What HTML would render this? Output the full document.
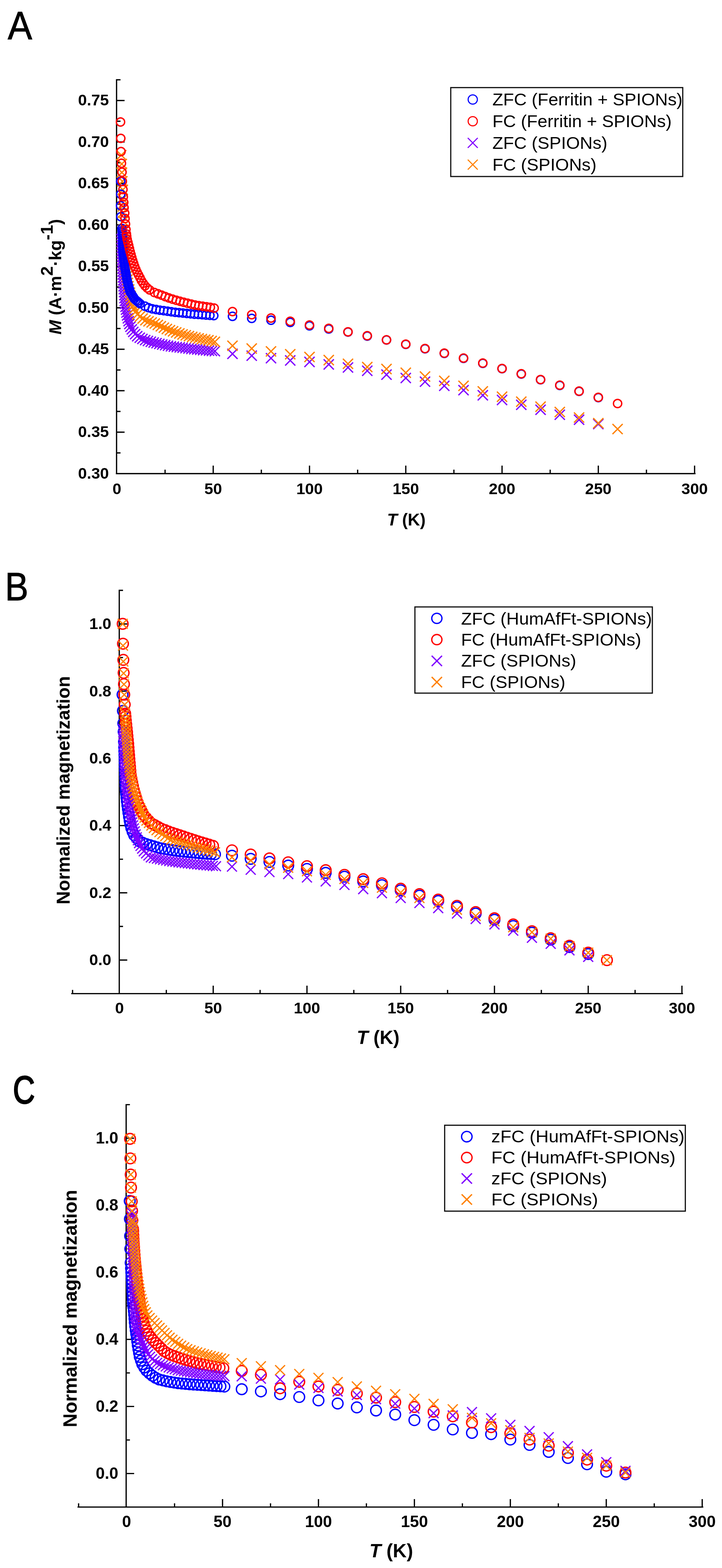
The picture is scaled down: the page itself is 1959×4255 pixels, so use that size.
<!DOCTYPE html>
<html><head><meta charset="utf-8"><title>ZFC/FC magnetization</title>
<style>html,body{margin:0;padding:0;background:#fff;}svg{display:block;filter:blur(0.6px);}</style>
</head><body>
<svg width="1959" height="4255" viewBox="0 0 1959 4255" font-family="'Liberation Sans', Arial, sans-serif">
<rect width="100%" height="100%" fill="#fff"/>
<path fill="none" stroke="#000" stroke-width="3.4" stroke-linecap="square" d="M316.3 216.5V1285.3M316 1285.3H1885.5M316.3 1285.3h20M316.3 1172.8h20M316.3 1060.3h20M316.3 947.8h20M316.3 835.3h20M316.3 722.8h20M316.3 610.3h20M316.3 497.8h20M316.3 385.3h20M316.3 272.8h20M316.3 1229h9M316.3 1116.5h9M316.3 1004h9M316.3 891.5h9M316.3 779h9M316.3 666.6h9M316.3 554h9M316.3 441.5h9M316.3 329h9M316.3 216.5h9M578.5 1285.3v-20M839.8 1285.3v-20M1101 1285.3v-20M1362.2 1285.3v-20M1623.4 1285.3v-20M1884.6 1285.3v-20M447.9 1285.3v-9M709.1 1285.3v-9M970.4 1285.3v-9M1231.6 1285.3v-9M1492.8 1285.3v-9M1754 1285.3v-9"/>
<text x="295.5" y="1298.7" font-size="43" font-weight="bold" text-anchor="end">0.30</text>
<text x="295.5" y="1186.2" font-size="43" font-weight="bold" text-anchor="end">0.35</text>
<text x="295.5" y="1073.7" font-size="43" font-weight="bold" text-anchor="end">0.40</text>
<text x="295.5" y="961.2" font-size="43" font-weight="bold" text-anchor="end">0.45</text>
<text x="295.5" y="848.7" font-size="43" font-weight="bold" text-anchor="end">0.50</text>
<text x="295.5" y="736.2" font-size="43" font-weight="bold" text-anchor="end">0.55</text>
<text x="295.5" y="623.7" font-size="43" font-weight="bold" text-anchor="end">0.60</text>
<text x="295.5" y="511.2" font-size="43" font-weight="bold" text-anchor="end">0.65</text>
<text x="295.5" y="398.7" font-size="43" font-weight="bold" text-anchor="end">0.70</text>
<text x="295.5" y="286.2" font-size="43" font-weight="bold" text-anchor="end">0.75</text>
<text x="317.3" y="1341" font-size="43" font-weight="bold" text-anchor="middle">0</text>
<text x="578.5" y="1341" font-size="43" font-weight="bold" text-anchor="middle">50</text>
<text x="839.8" y="1341" font-size="43" font-weight="bold" text-anchor="middle">100</text>
<text x="1101" y="1341" font-size="43" font-weight="bold" text-anchor="middle">150</text>
<text x="1362.2" y="1341" font-size="43" font-weight="bold" text-anchor="middle">200</text>
<text x="1623.4" y="1341" font-size="43" font-weight="bold" text-anchor="middle">250</text>
<text x="1884.6" y="1341" font-size="43" font-weight="bold" text-anchor="middle">300</text>
<text transform="translate(166 751) rotate(-90)" font-size="47" font-weight="bold" text-anchor="middle"><tspan font-style="italic">M</tspan> (A&#183;m<tspan dy="-23">2</tspan><tspan dy="23">&#183;kg</tspan><tspan dy="-23">-1</tspan><tspan dy="23">)</tspan></text>
<text x="1102.5" y="1426" font-size="46" font-weight="bold" text-anchor="middle"><tspan font-style="italic">T</tspan> (K)</text>
<text font-size="108" stroke="#000" stroke-width="1.4" transform="translate(21 106.6) scale(0.92 1)">A</text>
<path fill="none" stroke="#8000ff" stroke-width="3.5" stroke-linecap="butt" d="M316.3 635l27.6 27.6M316.3 662.6l27.6 -27.6M316.5 643l27.6 27.6M316.5 670.6l27.6 -27.6M316.6 651l27.6 27.6M316.6 678.6l27.6 -27.6M316.8 659l27.6 27.6M316.8 686.6l27.6 -27.6M317.1 667l27.6 27.6M317.1 694.6l27.6 -27.6M317.3 675l27.6 27.6M317.3 702.6l27.6 -27.6M317.6 683l27.6 27.6M317.6 710.6l27.6 -27.6M317.9 691l27.6 27.6M317.9 718.6l27.6 -27.6M318.2 699l27.6 27.6M318.2 726.6l27.6 -27.6M318.5 707l27.6 27.6M318.5 734.6l27.6 -27.6M318.8 715l27.6 27.6M318.8 742.6l27.6 -27.6M319.1 723l27.6 27.6M319.1 750.6l27.6 -27.6M319.5 731l27.6 27.6M319.5 758.6l27.6 -27.6M320 739l27.6 27.6M320 766.6l27.6 -27.6M320.5 746.9l27.6 27.6M320.5 774.5l27.6 -27.6M321 754.9l27.6 27.6M321 782.5l27.6 -27.6M321.6 762.9l27.6 27.6M321.6 790.5l27.6 -27.6M322.2 770.9l27.6 27.6M322.2 798.5l27.6 -27.6M322.9 778.9l27.6 27.6M322.9 806.5l27.6 -27.6M323.5 786.8l27.6 27.6M323.5 814.4l27.6 -27.6M324.1 794.8l27.6 27.6M324.1 822.4l27.6 -27.6M324.8 802.8l27.6 27.6M324.8 830.4l27.6 -27.6M325.6 810.7l27.6 27.6M325.6 838.3l27.6 -27.6M326.9 818.6l27.6 27.6M326.9 846.2l27.6 -27.6M328.2 826.5l27.6 27.6M328.2 854.1l27.6 -27.6M329.5 834.4l27.6 27.6M329.5 862l27.6 -27.6M331.1 842.2l27.6 27.6M331.1 869.8l27.6 -27.6M333.2 850l27.6 27.6M333.2 877.6l27.6 -27.6M335.2 857.7l27.6 27.6M335.2 885.3l27.6 -27.6M337.2 865.5l27.6 27.6M337.2 893.1l27.6 -27.6M340.2 872.8l27.6 27.6M340.2 900.4l27.6 -27.6M343.9 879.9l27.6 27.6M343.9 907.5l27.6 -27.6M347.8 886.9l27.6 27.6M347.8 914.5l27.6 -27.6M352.8 893.1l27.6 27.6M352.8 920.7l27.6 -27.6M358.5 898.6l27.6 27.6M358.5 926.2l27.6 -27.6M365.4 902.7l27.6 27.6M365.4 930.3l27.6 -27.6M372.6 906l27.6 27.6M372.6 933.6l27.6 -27.6M380 909.2l27.6 27.6M380 936.8l27.6 -27.6M387.6 911.5l27.6 27.6M387.6 939.1l27.6 -27.6M395.4 913.6l27.6 27.6M395.4 941.2l27.6 -27.6M403.1 915.7l27.6 27.6M403.1 943.3l27.6 -27.6M410.9 917.5l27.6 27.6M410.9 945.1l27.6 -27.6M418.6 919.4l27.6 27.6M418.6 947l27.6 -27.6M426.4 921.2l27.6 27.6M426.4 948.8l27.6 -27.6M434.3 922.8l27.6 27.6M434.3 950.4l27.6 -27.6M442.1 924.4l27.6 27.6M442.1 952l27.6 -27.6M450 926l27.6 27.6M450 953.6l27.6 -27.6M457.9 927l27.6 27.6M457.9 954.6l27.6 -27.6M465.8 927.9l27.6 27.6M465.8 955.5l27.6 -27.6M473.8 928.8l27.6 27.6M473.8 956.4l27.6 -27.6M481.7 929.8l27.6 27.6M481.7 957.4l27.6 -27.6M489.6 930.9l27.6 27.6M489.6 958.5l27.6 -27.6M497.6 932l27.6 27.6M497.6 959.6l27.6 -27.6M505.5 933.1l27.6 27.6M505.5 960.7l27.6 -27.6M513.4 933.9l27.6 27.6M513.4 961.5l27.6 -27.6M521.4 934.7l27.6 27.6M521.4 962.3l27.6 -27.6M529.4 935.5l27.6 27.6M529.4 963.1l27.6 -27.6M537.3 936.3l27.6 27.6M537.3 963.9l27.6 -27.6M545.3 937l27.6 27.6M545.3 964.6l27.6 -27.6M553.3 937.8l27.6 27.6M553.3 965.4l27.6 -27.6M561.2 938.5l27.6 27.6M561.2 966.1l27.6 -27.6M569.2 939.2l27.6 27.6M569.2 966.8l27.6 -27.6M617 946.4l27.6 27.6M617 974l27.6 -27.6M669.2 951.5l27.6 27.6M669.2 979.1l27.6 -27.6M721.5 958.2l27.6 27.6M721.5 985.8l27.6 -27.6M773.7 964.3l27.6 27.6M773.7 991.9l27.6 -27.6M826 968.3l27.6 27.6M826 995.9l27.6 -27.6M878.2 975.1l27.6 27.6M878.2 1002.7l27.6 -27.6M930.4 983.5l27.6 27.6M930.4 1011.1l27.6 -27.6M982.7 992.3l27.6 27.6M982.7 1019.9l27.6 -27.6M1034.9 1002.8l27.6 27.6M1034.9 1030.4l27.6 -27.6M1087.2 1011.9l27.6 27.6M1087.2 1039.5l27.6 -27.6M1139.4 1022l27.6 27.6M1139.4 1049.6l27.6 -27.6M1191.7 1033.2l27.6 27.6M1191.7 1060.8l27.6 -27.6M1243.9 1045l27.6 27.6M1243.9 1072.6l27.6 -27.6M1296.2 1058.8l27.6 27.6M1296.2 1086.4l27.6 -27.6M1348.4 1071.6l27.6 27.6M1348.4 1099.2l27.6 -27.6M1400.6 1084.7l27.6 27.6M1400.6 1112.3l27.6 -27.6M1452.9 1098.2l27.6 27.6M1452.9 1125.8l27.6 -27.6M1505.1 1111.7l27.6 27.6M1505.1 1139.3l27.6 -27.6M1557.4 1125.2l27.6 27.6M1557.4 1152.8l27.6 -27.6M1609.6 1137l27.6 27.6M1609.6 1164.6l27.6 -27.6"/>
<path fill="none" stroke="#ff8000" stroke-width="3.5" stroke-linecap="butt" d="M315.2 407.2l27.6 27.6M315.2 434.8l27.6 -27.6M316.7 431.2l27.6 27.6M316.7 458.8l27.6 -27.6M316.8 454.2l27.6 27.6M316.8 481.8l27.6 -27.6M318.2 478.2l27.6 27.6M318.2 505.8l27.6 -27.6M319.4 501.2l27.6 27.6M319.4 528.8l27.6 -27.6M319.2 526.2l27.6 27.6M319.2 553.8l27.6 -27.6M319.7 546.2l27.6 27.6M319.7 573.8l27.6 -27.6M320.2 563.2l27.6 27.6M320.2 590.8l27.6 -27.6M320.7 586.2l27.6 27.6M320.7 613.8l27.6 -27.6M321.2 610.2l27.6 27.6M321.2 637.8l27.6 -27.6M321.7 631.2l27.6 27.6M321.7 658.8l27.6 -27.6M322 637.8l27.6 27.6M322 665.4l27.6 -27.6M322.3 646.8l27.6 27.6M322.3 674.4l27.6 -27.6M322.7 655.8l27.6 27.6M322.7 683.4l27.6 -27.6M323.1 664.8l27.6 27.6M323.1 692.4l27.6 -27.6M323.5 673.8l27.6 27.6M323.5 701.4l27.6 -27.6M323.9 682.8l27.6 27.6M323.9 710.4l27.6 -27.6M324.3 691.8l27.6 27.6M324.3 719.4l27.6 -27.6M325 700.7l27.6 27.6M325 728.3l27.6 -27.6M326.3 709.6l27.6 27.6M326.3 737.2l27.6 -27.6M327.6 718.5l27.6 27.6M327.6 746.1l27.6 -27.6M328.9 727.4l27.6 27.6M328.9 755l27.6 -27.6M330.3 736.3l27.6 27.6M330.3 763.9l27.6 -27.6M331.8 745.2l27.6 27.6M331.8 772.8l27.6 -27.6M333.2 754.1l27.6 27.6M333.2 781.7l27.6 -27.6M334.7 763l27.6 27.6M334.7 790.6l27.6 -27.6M336.7 771.7l27.6 27.6M336.7 799.3l27.6 -27.6M338.7 780.5l27.6 27.6M338.7 808.1l27.6 -27.6M340.7 789.3l27.6 27.6M340.7 816.9l27.6 -27.6M342.7 798.1l27.6 27.6M342.7 825.7l27.6 -27.6M345.1 806.7l27.6 27.6M345.1 834.3l27.6 -27.6M347.6 815.4l27.6 27.6M347.6 843l27.6 -27.6M350.5 823.9l27.6 27.6M350.5 851.5l27.6 -27.6M354.3 832l27.6 27.6M354.3 859.6l27.6 -27.6M358.9 839.6l27.6 27.6M358.9 867.2l27.6 -27.6M366 845.1l27.6 27.6M366 872.7l27.6 -27.6M373.1 850.7l27.6 27.6M373.1 878.3l27.6 -27.6M380.7 855.2l27.6 27.6M380.7 882.8l27.6 -27.6M389.2 858.2l27.6 27.6M389.2 885.8l27.6 -27.6M397.7 861.2l27.6 27.6M397.7 888.8l27.6 -27.6M406.2 864.2l27.6 27.6M406.2 891.8l27.6 -27.6M414.4 867.9l27.6 27.6M414.4 895.5l27.6 -27.6M422.6 871.6l27.6 27.6M422.6 899.2l27.6 -27.6M430.8 875.4l27.6 27.6M430.8 903l27.6 -27.6M438.9 879.1l27.6 27.6M438.9 906.7l27.6 -27.6M447.4 882.3l27.6 27.6M447.4 909.9l27.6 -27.6M455.8 885.3l27.6 27.6M455.8 912.9l27.6 -27.6M464.3 888.3l27.6 27.6M464.3 915.9l27.6 -27.6M472.9 891.1l27.6 27.6M472.9 918.7l27.6 -27.6M481.5 893.8l27.6 27.6M481.5 921.4l27.6 -27.6M490.2 896.1l27.6 27.6M490.2 923.7l27.6 -27.6M498.9 898.3l27.6 27.6M498.9 925.9l27.6 -27.6M507.7 900.4l27.6 27.6M507.7 928l27.6 -27.6M516.4 902.4l27.6 27.6M516.4 930l27.6 -27.6M525.2 904.4l27.6 27.6M525.2 932l27.6 -27.6M534 906.3l27.6 27.6M534 933.9l27.6 -27.6M542.9 907.9l27.6 27.6M542.9 935.5l27.6 -27.6M551.7 909.4l27.6 27.6M551.7 937l27.6 -27.6M560.5 911.6l27.6 27.6M560.5 939.2l27.6 -27.6M569.2 913.7l27.6 27.6M569.2 941.3l27.6 -27.6M617 924.5l27.6 27.6M617 952.1l27.6 -27.6M669.2 931.9l27.6 27.6M669.2 959.5l27.6 -27.6M721.5 939.7l27.6 27.6M721.5 967.3l27.6 -27.6M773.7 947.4l27.6 27.6M773.7 975l27.6 -27.6M826 954.9l27.6 27.6M826 982.5l27.6 -27.6M878.2 963.3l27.6 27.6M878.2 990.9l27.6 -27.6M930.4 973.4l27.6 27.6M930.4 1001l27.6 -27.6M982.7 982.2l27.6 27.6M982.7 1009.8l27.6 -27.6M1034.9 987.6l27.6 27.6M1034.9 1015.2l27.6 -27.6M1087.2 997.7l27.6 27.6M1087.2 1025.3l27.6 -27.6M1139.4 1007.9l27.6 27.6M1139.4 1035.5l27.6 -27.6M1191.7 1019.7l27.6 27.6M1191.7 1047.3l27.6 -27.6M1243.9 1033.2l27.6 27.6M1243.9 1060.8l27.6 -27.6M1296.2 1048.2l27.6 27.6M1296.2 1075.8l27.6 -27.6M1348.4 1062.8l27.6 27.6M1348.4 1090.4l27.6 -27.6M1400.6 1076.2l27.6 27.6M1400.6 1103.8l27.6 -27.6M1452.9 1089.8l27.6 27.6M1452.9 1117.4l27.6 -27.6M1505.1 1104.2l27.6 27.6M1505.1 1131.8l27.6 -27.6M1557.4 1119.2l27.6 27.6M1557.4 1146.8l27.6 -27.6M1609.6 1134.6l27.6 27.6M1609.6 1162.2l27.6 -27.6M1661.9 1150.5l27.6 27.6M1661.9 1178.1l27.6 -27.6"/>
<path fill="none" stroke="#0000ff" stroke-width="3.7" d="M316.4 492a11.2 11.2 0 1 0 22.4 0a11.2 11.2 0 1 0 -22.4 0M316.4 527a11.2 11.2 0 1 0 22.4 0a11.2 11.2 0 1 0 -22.4 0M316 558a11.2 11.2 0 1 0 22.4 0a11.2 11.2 0 1 0 -22.4 0M316.8 588a11.2 11.2 0 1 0 22.4 0a11.2 11.2 0 1 0 -22.4 0M319.8 620a11.2 11.2 0 1 0 22.4 0a11.2 11.2 0 1 0 -22.4 0M320.2 626.3a11.2 11.2 0 1 0 22.4 0a11.2 11.2 0 1 0 -22.4 0M320.6 631.3a11.2 11.2 0 1 0 22.4 0a11.2 11.2 0 1 0 -22.4 0M320.9 636.3a11.2 11.2 0 1 0 22.4 0a11.2 11.2 0 1 0 -22.4 0M321.3 641.3a11.2 11.2 0 1 0 22.4 0a11.2 11.2 0 1 0 -22.4 0M321.6 646.2a11.2 11.2 0 1 0 22.4 0a11.2 11.2 0 1 0 -22.4 0M321.8 651.2a11.2 11.2 0 1 0 22.4 0a11.2 11.2 0 1 0 -22.4 0M321.9 656.2a11.2 11.2 0 1 0 22.4 0a11.2 11.2 0 1 0 -22.4 0M322 661.2a11.2 11.2 0 1 0 22.4 0a11.2 11.2 0 1 0 -22.4 0M322.1 666.2a11.2 11.2 0 1 0 22.4 0a11.2 11.2 0 1 0 -22.4 0M322.2 671.2a11.2 11.2 0 1 0 22.4 0a11.2 11.2 0 1 0 -22.4 0M322.2 676.2a11.2 11.2 0 1 0 22.4 0a11.2 11.2 0 1 0 -22.4 0M322.4 681.2a11.2 11.2 0 1 0 22.4 0a11.2 11.2 0 1 0 -22.4 0M323 686.2a11.2 11.2 0 1 0 22.4 0a11.2 11.2 0 1 0 -22.4 0M323.5 691.2a11.2 11.2 0 1 0 22.4 0a11.2 11.2 0 1 0 -22.4 0M324 696.1a11.2 11.2 0 1 0 22.4 0a11.2 11.2 0 1 0 -22.4 0M324.5 701.1a11.2 11.2 0 1 0 22.4 0a11.2 11.2 0 1 0 -22.4 0M325 706.1a11.2 11.2 0 1 0 22.4 0a11.2 11.2 0 1 0 -22.4 0M325.6 711.1a11.2 11.2 0 1 0 22.4 0a11.2 11.2 0 1 0 -22.4 0M326.1 716a11.2 11.2 0 1 0 22.4 0a11.2 11.2 0 1 0 -22.4 0M326.6 721a11.2 11.2 0 1 0 22.4 0a11.2 11.2 0 1 0 -22.4 0M327.5 725.9a11.2 11.2 0 1 0 22.4 0a11.2 11.2 0 1 0 -22.4 0M328.3 730.9a11.2 11.2 0 1 0 22.4 0a11.2 11.2 0 1 0 -22.4 0M329.2 735.8a11.2 11.2 0 1 0 22.4 0a11.2 11.2 0 1 0 -22.4 0M330.1 740.7a11.2 11.2 0 1 0 22.4 0a11.2 11.2 0 1 0 -22.4 0M330.9 745.6a11.2 11.2 0 1 0 22.4 0a11.2 11.2 0 1 0 -22.4 0M331.8 750.6a11.2 11.2 0 1 0 22.4 0a11.2 11.2 0 1 0 -22.4 0M332.7 755.5a11.2 11.2 0 1 0 22.4 0a11.2 11.2 0 1 0 -22.4 0M333.5 760.4a11.2 11.2 0 1 0 22.4 0a11.2 11.2 0 1 0 -22.4 0M334.7 765.3a11.2 11.2 0 1 0 22.4 0a11.2 11.2 0 1 0 -22.4 0M336 770.1a11.2 11.2 0 1 0 22.4 0a11.2 11.2 0 1 0 -22.4 0M337.3 774.9a11.2 11.2 0 1 0 22.4 0a11.2 11.2 0 1 0 -22.4 0M338.6 779.7a11.2 11.2 0 1 0 22.4 0a11.2 11.2 0 1 0 -22.4 0M339.9 784.6a11.2 11.2 0 1 0 22.4 0a11.2 11.2 0 1 0 -22.4 0M341.2 789.4a11.2 11.2 0 1 0 22.4 0a11.2 11.2 0 1 0 -22.4 0M343.1 793.9a11.2 11.2 0 1 0 22.4 0a11.2 11.2 0 1 0 -22.4 0M345.8 798.2a11.2 11.2 0 1 0 22.4 0a11.2 11.2 0 1 0 -22.4 0M348.5 802.4a11.2 11.2 0 1 0 22.4 0a11.2 11.2 0 1 0 -22.4 0M351.1 806.6a11.2 11.2 0 1 0 22.4 0a11.2 11.2 0 1 0 -22.4 0M353.8 810.9a11.2 11.2 0 1 0 22.4 0a11.2 11.2 0 1 0 -22.4 0M357.3 814.4a11.2 11.2 0 1 0 22.4 0a11.2 11.2 0 1 0 -22.4 0M361.1 817.6a11.2 11.2 0 1 0 22.4 0a11.2 11.2 0 1 0 -22.4 0M365 820.8a11.2 11.2 0 1 0 22.4 0a11.2 11.2 0 1 0 -22.4 0M368.8 824a11.2 11.2 0 1 0 22.4 0a11.2 11.2 0 1 0 -22.4 0M382.3 830.9a11.2 11.2 0 1 0 22.4 0a11.2 11.2 0 1 0 -22.4 0M391.9 835a11.2 11.2 0 1 0 22.4 0a11.2 11.2 0 1 0 -22.4 0M401.9 838.1a11.2 11.2 0 1 0 22.4 0a11.2 11.2 0 1 0 -22.4 0M412.3 839.9a11.2 11.2 0 1 0 22.4 0a11.2 11.2 0 1 0 -22.4 0M422.6 841.7a11.2 11.2 0 1 0 22.4 0a11.2 11.2 0 1 0 -22.4 0M433 843.1a11.2 11.2 0 1 0 22.4 0a11.2 11.2 0 1 0 -22.4 0M443.4 844.5a11.2 11.2 0 1 0 22.4 0a11.2 11.2 0 1 0 -22.4 0M453.8 846a11.2 11.2 0 1 0 22.4 0a11.2 11.2 0 1 0 -22.4 0M464.2 847.5a11.2 11.2 0 1 0 22.4 0a11.2 11.2 0 1 0 -22.4 0M474.7 848.5a11.2 11.2 0 1 0 22.4 0a11.2 11.2 0 1 0 -22.4 0M485.1 849.5a11.2 11.2 0 1 0 22.4 0a11.2 11.2 0 1 0 -22.4 0M495.6 850.6a11.2 11.2 0 1 0 22.4 0a11.2 11.2 0 1 0 -22.4 0M506 851.6a11.2 11.2 0 1 0 22.4 0a11.2 11.2 0 1 0 -22.4 0M516.4 852.7a11.2 11.2 0 1 0 22.4 0a11.2 11.2 0 1 0 -22.4 0M526.9 853.3a11.2 11.2 0 1 0 22.4 0a11.2 11.2 0 1 0 -22.4 0M537.4 853.9a11.2 11.2 0 1 0 22.4 0a11.2 11.2 0 1 0 -22.4 0M547.9 854.9a11.2 11.2 0 1 0 22.4 0a11.2 11.2 0 1 0 -22.4 0M558.3 855.8a11.2 11.2 0 1 0 22.4 0a11.2 11.2 0 1 0 -22.4 0M568.8 856.5a11.2 11.2 0 1 0 22.4 0a11.2 11.2 0 1 0 -22.4 0M619.6 858.4a11.2 11.2 0 1 0 22.4 0a11.2 11.2 0 1 0 -22.4 0M671.8 864a11.2 11.2 0 1 0 22.4 0a11.2 11.2 0 1 0 -22.4 0M724.1 869a11.2 11.2 0 1 0 22.4 0a11.2 11.2 0 1 0 -22.4 0M776.3 874.9a11.2 11.2 0 1 0 22.4 0a11.2 11.2 0 1 0 -22.4 0M828.5 884.3a11.2 11.2 0 1 0 22.4 0a11.2 11.2 0 1 0 -22.4 0M880.8 892.8a11.2 11.2 0 1 0 22.4 0a11.2 11.2 0 1 0 -22.4 0M933 901a11.2 11.2 0 1 0 22.4 0a11.2 11.2 0 1 0 -22.4 0M985.3 912a11.2 11.2 0 1 0 22.4 0a11.2 11.2 0 1 0 -22.4 0M1037.5 922.5a11.2 11.2 0 1 0 22.4 0a11.2 11.2 0 1 0 -22.4 0M1089.8 934.5a11.2 11.2 0 1 0 22.4 0a11.2 11.2 0 1 0 -22.4 0M1142 946.5a11.2 11.2 0 1 0 22.4 0a11.2 11.2 0 1 0 -22.4 0M1194.3 959a11.2 11.2 0 1 0 22.4 0a11.2 11.2 0 1 0 -22.4 0M1246.5 972.5a11.2 11.2 0 1 0 22.4 0a11.2 11.2 0 1 0 -22.4 0M1298.8 986a11.2 11.2 0 1 0 22.4 0a11.2 11.2 0 1 0 -22.4 0M1351 1000.5a11.2 11.2 0 1 0 22.4 0a11.2 11.2 0 1 0 -22.4 0M1403.2 1015a11.2 11.2 0 1 0 22.4 0a11.2 11.2 0 1 0 -22.4 0M1455.5 1030.5a11.2 11.2 0 1 0 22.4 0a11.2 11.2 0 1 0 -22.4 0M1507.7 1046a11.2 11.2 0 1 0 22.4 0a11.2 11.2 0 1 0 -22.4 0M1560 1062a11.2 11.2 0 1 0 22.4 0a11.2 11.2 0 1 0 -22.4 0M1612.2 1079a11.2 11.2 0 1 0 22.4 0a11.2 11.2 0 1 0 -22.4 0"/>
<path fill="none" stroke="#ff0000" stroke-width="3.7" d="M315.8 331a11.2 11.2 0 1 0 22.4 0a11.2 11.2 0 1 0 -22.4 0M316.5 375.5a11.2 11.2 0 1 0 22.4 0a11.2 11.2 0 1 0 -22.4 0M317.1 411.3a11.2 11.2 0 1 0 22.4 0a11.2 11.2 0 1 0 -22.4 0M318.3 443a11.2 11.2 0 1 0 22.4 0a11.2 11.2 0 1 0 -22.4 0M319.8 467.3a11.2 11.2 0 1 0 22.4 0a11.2 11.2 0 1 0 -22.4 0M320.7 492.1a11.2 11.2 0 1 0 22.4 0a11.2 11.2 0 1 0 -22.4 0M322.4 514.3a11.2 11.2 0 1 0 22.4 0a11.2 11.2 0 1 0 -22.4 0M323.3 534a11.2 11.2 0 1 0 22.4 0a11.2 11.2 0 1 0 -22.4 0M324.5 549.3a11.2 11.2 0 1 0 22.4 0a11.2 11.2 0 1 0 -22.4 0M325.4 563.8a11.2 11.2 0 1 0 22.4 0a11.2 11.2 0 1 0 -22.4 0M327.1 578.3a11.2 11.2 0 1 0 22.4 0a11.2 11.2 0 1 0 -22.4 0M328 592.9a11.2 11.2 0 1 0 22.4 0a11.2 11.2 0 1 0 -22.4 0M329.3 608a11.2 11.2 0 1 0 22.4 0a11.2 11.2 0 1 0 -22.4 0M330.5 622.8a11.2 11.2 0 1 0 22.4 0a11.2 11.2 0 1 0 -22.4 0M331.8 635a11.2 11.2 0 1 0 22.4 0a11.2 11.2 0 1 0 -22.4 0M332.5 641.1a11.2 11.2 0 1 0 22.4 0a11.2 11.2 0 1 0 -22.4 0M333.8 649.4a11.2 11.2 0 1 0 22.4 0a11.2 11.2 0 1 0 -22.4 0M335.9 657.7a11.2 11.2 0 1 0 22.4 0a11.2 11.2 0 1 0 -22.4 0M338 665.9a11.2 11.2 0 1 0 22.4 0a11.2 11.2 0 1 0 -22.4 0M340 674.2a11.2 11.2 0 1 0 22.4 0a11.2 11.2 0 1 0 -22.4 0M341.9 682.5a11.2 11.2 0 1 0 22.4 0a11.2 11.2 0 1 0 -22.4 0M344.2 690.7a11.2 11.2 0 1 0 22.4 0a11.2 11.2 0 1 0 -22.4 0M346.4 698.8a11.2 11.2 0 1 0 22.4 0a11.2 11.2 0 1 0 -22.4 0M348.9 707a11.2 11.2 0 1 0 22.4 0a11.2 11.2 0 1 0 -22.4 0M351.5 715.1a11.2 11.2 0 1 0 22.4 0a11.2 11.2 0 1 0 -22.4 0M354.2 723.1a11.2 11.2 0 1 0 22.4 0a11.2 11.2 0 1 0 -22.4 0M357.4 731a11.2 11.2 0 1 0 22.4 0a11.2 11.2 0 1 0 -22.4 0M360.8 738.8a11.2 11.2 0 1 0 22.4 0a11.2 11.2 0 1 0 -22.4 0M364.8 746.3a11.2 11.2 0 1 0 22.4 0a11.2 11.2 0 1 0 -22.4 0M368.7 753.8a11.2 11.2 0 1 0 22.4 0a11.2 11.2 0 1 0 -22.4 0M372.6 761.4a11.2 11.2 0 1 0 22.4 0a11.2 11.2 0 1 0 -22.4 0M377.2 768.6a11.2 11.2 0 1 0 22.4 0a11.2 11.2 0 1 0 -22.4 0M382.2 775.4a11.2 11.2 0 1 0 22.4 0a11.2 11.2 0 1 0 -22.4 0M388.2 781.4a11.2 11.2 0 1 0 22.4 0a11.2 11.2 0 1 0 -22.4 0M394.8 786.7a11.2 11.2 0 1 0 22.4 0a11.2 11.2 0 1 0 -22.4 0M407.8 793.8a11.2 11.2 0 1 0 22.4 0a11.2 11.2 0 1 0 -22.4 0M417.6 797.4a11.2 11.2 0 1 0 22.4 0a11.2 11.2 0 1 0 -22.4 0M427.5 801a11.2 11.2 0 1 0 22.4 0a11.2 11.2 0 1 0 -22.4 0M437.2 804.9a11.2 11.2 0 1 0 22.4 0a11.2 11.2 0 1 0 -22.4 0M447 808.6a11.2 11.2 0 1 0 22.4 0a11.2 11.2 0 1 0 -22.4 0M457 811.8a11.2 11.2 0 1 0 22.4 0a11.2 11.2 0 1 0 -22.4 0M467.1 814.8a11.2 11.2 0 1 0 22.4 0a11.2 11.2 0 1 0 -22.4 0M477.2 817.6a11.2 11.2 0 1 0 22.4 0a11.2 11.2 0 1 0 -22.4 0M487.4 820.3a11.2 11.2 0 1 0 22.4 0a11.2 11.2 0 1 0 -22.4 0M497.6 822.8a11.2 11.2 0 1 0 22.4 0a11.2 11.2 0 1 0 -22.4 0M507.8 825.3a11.2 11.2 0 1 0 22.4 0a11.2 11.2 0 1 0 -22.4 0M518 827.7a11.2 11.2 0 1 0 22.4 0a11.2 11.2 0 1 0 -22.4 0M528.3 829.5a11.2 11.2 0 1 0 22.4 0a11.2 11.2 0 1 0 -22.4 0M538.7 831a11.2 11.2 0 1 0 22.4 0a11.2 11.2 0 1 0 -22.4 0M549.1 832.5a11.2 11.2 0 1 0 22.4 0a11.2 11.2 0 1 0 -22.4 0M559.5 834a11.2 11.2 0 1 0 22.4 0a11.2 11.2 0 1 0 -22.4 0M569.8 836a11.2 11.2 0 1 0 22.4 0a11.2 11.2 0 1 0 -22.4 0M619.6 845.5a11.2 11.2 0 1 0 22.4 0a11.2 11.2 0 1 0 -22.4 0M671.8 854a11.2 11.2 0 1 0 22.4 0a11.2 11.2 0 1 0 -22.4 0M724.1 863a11.2 11.2 0 1 0 22.4 0a11.2 11.2 0 1 0 -22.4 0M776.3 871.8a11.2 11.2 0 1 0 22.4 0a11.2 11.2 0 1 0 -22.4 0M828.5 882a11.2 11.2 0 1 0 22.4 0a11.2 11.2 0 1 0 -22.4 0M880.8 891a11.2 11.2 0 1 0 22.4 0a11.2 11.2 0 1 0 -22.4 0M933 900.5a11.2 11.2 0 1 0 22.4 0a11.2 11.2 0 1 0 -22.4 0M985.3 911a11.2 11.2 0 1 0 22.4 0a11.2 11.2 0 1 0 -22.4 0M1037.5 922.2a11.2 11.2 0 1 0 22.4 0a11.2 11.2 0 1 0 -22.4 0M1089.8 934a11.2 11.2 0 1 0 22.4 0a11.2 11.2 0 1 0 -22.4 0M1142 945.8a11.2 11.2 0 1 0 22.4 0a11.2 11.2 0 1 0 -22.4 0M1194.3 958.3a11.2 11.2 0 1 0 22.4 0a11.2 11.2 0 1 0 -22.4 0M1246.5 971.7a11.2 11.2 0 1 0 22.4 0a11.2 11.2 0 1 0 -22.4 0M1298.8 985.3a11.2 11.2 0 1 0 22.4 0a11.2 11.2 0 1 0 -22.4 0M1351 1000a11.2 11.2 0 1 0 22.4 0a11.2 11.2 0 1 0 -22.4 0M1403.2 1014.2a11.2 11.2 0 1 0 22.4 0a11.2 11.2 0 1 0 -22.4 0M1455.5 1030a11.2 11.2 0 1 0 22.4 0a11.2 11.2 0 1 0 -22.4 0M1507.7 1045.2a11.2 11.2 0 1 0 22.4 0a11.2 11.2 0 1 0 -22.4 0M1560 1061.4a11.2 11.2 0 1 0 22.4 0a11.2 11.2 0 1 0 -22.4 0M1612.2 1078.3a11.2 11.2 0 1 0 22.4 0a11.2 11.2 0 1 0 -22.4 0M1664.5 1095a11.2 11.2 0 1 0 22.4 0a11.2 11.2 0 1 0 -22.4 0"/>
<rect x="1223" y="237.7" width="629.5" height="241.3" fill="none" stroke="#111" stroke-width="3.2"/>
<circle cx="1282.7" cy="270" r="12.5" fill="none" stroke="#0000ff" stroke-width="3"/>
<text font-size="45.5" transform="translate(1336 285.5) scale(1.0550 1)">ZFC (Ferritin + SPIONs)</text>
<circle cx="1282.7" cy="329" r="12.5" fill="none" stroke="#ff0000" stroke-width="3"/>
<text font-size="45.5" transform="translate(1336 345) scale(1.0550 1)">FC (Ferritin + SPIONs)</text>
<path fill="none" stroke="#8000ff" stroke-width="3" d="M1269.2 374.2l27 27M1269.2 401.2l27 -27"/>
<text font-size="45.5" transform="translate(1336 403.5) scale(1.0550 1)">ZFC (SPIONs)</text>
<path fill="none" stroke="#ff8000" stroke-width="3" d="M1269.2 433.3l27 27M1269.2 460.3l27 -27"/>
<text font-size="45.5" transform="translate(1336 462.5) scale(1.0550 1)">FC (SPIONs)</text>
<path fill="none" stroke="#000" stroke-width="3.4" stroke-linecap="square" d="M323.6 1602V2696.4M195 2696.4H1851.5M323.6 2605.2h20M323.6 2422.8h20M323.6 2240.4h20M323.6 2058h20M323.6 1875.6h20M323.6 1693.2h20M323.6 2514h8.5M323.6 2331.6h8.5M323.6 2149.2h8.5M323.6 1966.8h8.5M323.6 1784.4h8.5M323.6 1602h8.5M578.5 2696.4v-20M832.9 2696.4v-20M1087.2 2696.4v-20M1341.6 2696.4v-20M1596 2696.4v-20M1850.3 2696.4v-20M196.9 2696.4v-8.5M451.3 2696.4v-8.5M705.7 2696.4v-8.5M960 2696.4v-8.5M1214.4 2696.4v-8.5M1468.8 2696.4v-8.5M1723.2 2696.4v-8.5"/>
<text x="302" y="2619.2" font-size="43" font-weight="bold" text-anchor="end">0.0</text>
<text x="302" y="2436.8" font-size="43" font-weight="bold" text-anchor="end">0.2</text>
<text x="302" y="2254.4" font-size="43" font-weight="bold" text-anchor="end">0.4</text>
<text x="302" y="2072" font-size="43" font-weight="bold" text-anchor="end">0.6</text>
<text x="302" y="1889.6" font-size="43" font-weight="bold" text-anchor="end">0.8</text>
<text x="302" y="1707.2" font-size="43" font-weight="bold" text-anchor="end">1.0</text>
<text x="324.1" y="2750" font-size="43" font-weight="bold" text-anchor="middle">0</text>
<text x="578.5" y="2750" font-size="43" font-weight="bold" text-anchor="middle">50</text>
<text x="832.9" y="2750" font-size="43" font-weight="bold" text-anchor="middle">100</text>
<text x="1087.2" y="2750" font-size="43" font-weight="bold" text-anchor="middle">150</text>
<text x="1341.6" y="2750" font-size="43" font-weight="bold" text-anchor="middle">200</text>
<text x="1596" y="2750" font-size="43" font-weight="bold" text-anchor="middle">250</text>
<text x="1850.3" y="2750" font-size="43" font-weight="bold" text-anchor="middle">300</text>
<text transform="translate(189.4 2144.5) rotate(-90)" font-size="50" font-weight="bold" text-anchor="middle">Normalized magnetization</text>
<text x="1026" y="2833" font-size="51" font-weight="bold" text-anchor="middle"><tspan font-style="italic">T</tspan> (K)</text>
<text font-size="107" stroke="#000" stroke-width="1.4" transform="translate(13.5 1629.2) scale(0.89 1)">B</text>
<path fill="none" stroke="#0000ff" stroke-width="3.7" d="M318 1885a14.5 14.5 0 1 0 29 0a14.5 14.5 0 1 0 -29 0M319 1929a14.5 14.5 0 1 0 29 0a14.5 14.5 0 1 0 -29 0M320 1963a14.5 14.5 0 1 0 29 0a14.5 14.5 0 1 0 -29 0M321 1986a14.5 14.5 0 1 0 29 0a14.5 14.5 0 1 0 -29 0M322 2013a14.5 14.5 0 1 0 29 0a14.5 14.5 0 1 0 -29 0M322.6 2028a14.5 14.5 0 1 0 29 0a14.5 14.5 0 1 0 -29 0M322.9 2038.5a14.5 14.5 0 1 0 29 0a14.5 14.5 0 1 0 -29 0M323.3 2049a14.5 14.5 0 1 0 29 0a14.5 14.5 0 1 0 -29 0M323.6 2059.5a14.5 14.5 0 1 0 29 0a14.5 14.5 0 1 0 -29 0M323.9 2070a14.5 14.5 0 1 0 29 0a14.5 14.5 0 1 0 -29 0M324.2 2080.5a14.5 14.5 0 1 0 29 0a14.5 14.5 0 1 0 -29 0M324.5 2091a14.5 14.5 0 1 0 29 0a14.5 14.5 0 1 0 -29 0M324.9 2101.5a14.5 14.5 0 1 0 29 0a14.5 14.5 0 1 0 -29 0M325.3 2112a14.5 14.5 0 1 0 29 0a14.5 14.5 0 1 0 -29 0M325.7 2122.5a14.5 14.5 0 1 0 29 0a14.5 14.5 0 1 0 -29 0M326.1 2133a14.5 14.5 0 1 0 29 0a14.5 14.5 0 1 0 -29 0M326.6 2143.5a14.5 14.5 0 1 0 29 0a14.5 14.5 0 1 0 -29 0M327.7 2153.9a14.5 14.5 0 1 0 29 0a14.5 14.5 0 1 0 -29 0M328.8 2164.3a14.5 14.5 0 1 0 29 0a14.5 14.5 0 1 0 -29 0M329.9 2174.8a14.5 14.5 0 1 0 29 0a14.5 14.5 0 1 0 -29 0M331.2 2185.2a14.5 14.5 0 1 0 29 0a14.5 14.5 0 1 0 -29 0M332.6 2195.6a14.5 14.5 0 1 0 29 0a14.5 14.5 0 1 0 -29 0M334 2206a14.5 14.5 0 1 0 29 0a14.5 14.5 0 1 0 -29 0M335.6 2216.4a14.5 14.5 0 1 0 29 0a14.5 14.5 0 1 0 -29 0M337.3 2226.8a14.5 14.5 0 1 0 29 0a14.5 14.5 0 1 0 -29 0M339 2237.1a14.5 14.5 0 1 0 29 0a14.5 14.5 0 1 0 -29 0M341.9 2247.2a14.5 14.5 0 1 0 29 0a14.5 14.5 0 1 0 -29 0M345.2 2257.1a14.5 14.5 0 1 0 29 0a14.5 14.5 0 1 0 -29 0M349.6 2266.5a14.5 14.5 0 1 0 29 0a14.5 14.5 0 1 0 -29 0M356.4 2274.5a14.5 14.5 0 1 0 29 0a14.5 14.5 0 1 0 -29 0M363.1 2282.6a14.5 14.5 0 1 0 29 0a14.5 14.5 0 1 0 -29 0M372.6 2286.9a14.5 14.5 0 1 0 29 0a14.5 14.5 0 1 0 -29 0M382.4 2290.7a14.5 14.5 0 1 0 29 0a14.5 14.5 0 1 0 -29 0M392.5 2293.7a14.5 14.5 0 1 0 29 0a14.5 14.5 0 1 0 -29 0M402.6 2296.6a14.5 14.5 0 1 0 29 0a14.5 14.5 0 1 0 -29 0M412.6 2299.7a14.5 14.5 0 1 0 29 0a14.5 14.5 0 1 0 -29 0M422.7 2302.4a14.5 14.5 0 1 0 29 0a14.5 14.5 0 1 0 -29 0M433.1 2304a14.5 14.5 0 1 0 29 0a14.5 14.5 0 1 0 -29 0M443.5 2305.7a14.5 14.5 0 1 0 29 0a14.5 14.5 0 1 0 -29 0M453.9 2307.2a14.5 14.5 0 1 0 29 0a14.5 14.5 0 1 0 -29 0M464.3 2308.7a14.5 14.5 0 1 0 29 0a14.5 14.5 0 1 0 -29 0M474.7 2310.1a14.5 14.5 0 1 0 29 0a14.5 14.5 0 1 0 -29 0M485.1 2311.1a14.5 14.5 0 1 0 29 0a14.5 14.5 0 1 0 -29 0M495.6 2312.1a14.5 14.5 0 1 0 29 0a14.5 14.5 0 1 0 -29 0M506 2313.1a14.5 14.5 0 1 0 29 0a14.5 14.5 0 1 0 -29 0M516.5 2314.1a14.5 14.5 0 1 0 29 0a14.5 14.5 0 1 0 -29 0M526.9 2315.1a14.5 14.5 0 1 0 29 0a14.5 14.5 0 1 0 -29 0M537.4 2316.1a14.5 14.5 0 1 0 29 0a14.5 14.5 0 1 0 -29 0M547.8 2316.8a14.5 14.5 0 1 0 29 0a14.5 14.5 0 1 0 -29 0M558.3 2317.5a14.5 14.5 0 1 0 29 0a14.5 14.5 0 1 0 -29 0M568.8 2318.2a14.5 14.5 0 1 0 29 0a14.5 14.5 0 1 0 -29 0M614.9 2322.2a14.5 14.5 0 1 0 29 0a14.5 14.5 0 1 0 -29 0M665.7 2330.6a14.5 14.5 0 1 0 29 0a14.5 14.5 0 1 0 -29 0M716.6 2339a14.5 14.5 0 1 0 29 0a14.5 14.5 0 1 0 -29 0M767.5 2348.8a14.5 14.5 0 1 0 29 0a14.5 14.5 0 1 0 -29 0M818.4 2358a14.5 14.5 0 1 0 29 0a14.5 14.5 0 1 0 -29 0M869.2 2368.6a14.5 14.5 0 1 0 29 0a14.5 14.5 0 1 0 -29 0M920.1 2379a14.5 14.5 0 1 0 29 0a14.5 14.5 0 1 0 -29 0M971 2391.8a14.5 14.5 0 1 0 29 0a14.5 14.5 0 1 0 -29 0M1021.8 2402a14.5 14.5 0 1 0 29 0a14.5 14.5 0 1 0 -29 0M1072.7 2416a14.5 14.5 0 1 0 29 0a14.5 14.5 0 1 0 -29 0M1123.6 2430.5a14.5 14.5 0 1 0 29 0a14.5 14.5 0 1 0 -29 0M1174.5 2445a14.5 14.5 0 1 0 29 0a14.5 14.5 0 1 0 -29 0M1225.4 2462a14.5 14.5 0 1 0 29 0a14.5 14.5 0 1 0 -29 0M1276.2 2479a14.5 14.5 0 1 0 29 0a14.5 14.5 0 1 0 -29 0M1327.1 2496a14.5 14.5 0 1 0 29 0a14.5 14.5 0 1 0 -29 0M1378 2513a14.5 14.5 0 1 0 29 0a14.5 14.5 0 1 0 -29 0M1428.8 2531a14.5 14.5 0 1 0 29 0a14.5 14.5 0 1 0 -29 0M1479.7 2550a14.5 14.5 0 1 0 29 0a14.5 14.5 0 1 0 -29 0M1530.6 2570a14.5 14.5 0 1 0 29 0a14.5 14.5 0 1 0 -29 0M1581.5 2589a14.5 14.5 0 1 0 29 0a14.5 14.5 0 1 0 -29 0"/>
<path fill="none" stroke="#ff0000" stroke-width="3.7" d="M318.4 1692.9a14.5 14.5 0 1 0 29 0a14.5 14.5 0 1 0 -29 0M319.2 1746.8a14.5 14.5 0 1 0 29 0a14.5 14.5 0 1 0 -29 0M320.1 1790.7a14.5 14.5 0 1 0 29 0a14.5 14.5 0 1 0 -29 0M320.9 1826.1a14.5 14.5 0 1 0 29 0a14.5 14.5 0 1 0 -29 0M321.8 1856.5a14.5 14.5 0 1 0 29 0a14.5 14.5 0 1 0 -29 0M322.6 1885.1a14.5 14.5 0 1 0 29 0a14.5 14.5 0 1 0 -29 0M323.9 1912.1a14.5 14.5 0 1 0 29 0a14.5 14.5 0 1 0 -29 0M325.1 1936.6a14.5 14.5 0 1 0 29 0a14.5 14.5 0 1 0 -29 0M325.9 1944.9a14.5 14.5 0 1 0 29 0a14.5 14.5 0 1 0 -29 0M326.9 1955.3a14.5 14.5 0 1 0 29 0a14.5 14.5 0 1 0 -29 0M328 1965.8a14.5 14.5 0 1 0 29 0a14.5 14.5 0 1 0 -29 0M329.1 1976.2a14.5 14.5 0 1 0 29 0a14.5 14.5 0 1 0 -29 0M330.2 1986.7a14.5 14.5 0 1 0 29 0a14.5 14.5 0 1 0 -29 0M331.2 1997.1a14.5 14.5 0 1 0 29 0a14.5 14.5 0 1 0 -29 0M332.3 2007.6a14.5 14.5 0 1 0 29 0a14.5 14.5 0 1 0 -29 0M333.3 2018a14.5 14.5 0 1 0 29 0a14.5 14.5 0 1 0 -29 0M334.1 2028.5a14.5 14.5 0 1 0 29 0a14.5 14.5 0 1 0 -29 0M334.9 2038.9a14.5 14.5 0 1 0 29 0a14.5 14.5 0 1 0 -29 0M335.7 2049.4a14.5 14.5 0 1 0 29 0a14.5 14.5 0 1 0 -29 0M336.5 2059.9a14.5 14.5 0 1 0 29 0a14.5 14.5 0 1 0 -29 0M337.4 2070.4a14.5 14.5 0 1 0 29 0a14.5 14.5 0 1 0 -29 0M338.3 2080.8a14.5 14.5 0 1 0 29 0a14.5 14.5 0 1 0 -29 0M339.2 2091.3a14.5 14.5 0 1 0 29 0a14.5 14.5 0 1 0 -29 0M340.1 2101.7a14.5 14.5 0 1 0 29 0a14.5 14.5 0 1 0 -29 0M342 2112a14.5 14.5 0 1 0 29 0a14.5 14.5 0 1 0 -29 0M344.1 2122.3a14.5 14.5 0 1 0 29 0a14.5 14.5 0 1 0 -29 0M346.2 2132.6a14.5 14.5 0 1 0 29 0a14.5 14.5 0 1 0 -29 0M348.4 2142.9a14.5 14.5 0 1 0 29 0a14.5 14.5 0 1 0 -29 0M351.2 2153a14.5 14.5 0 1 0 29 0a14.5 14.5 0 1 0 -29 0M354.1 2163.1a14.5 14.5 0 1 0 29 0a14.5 14.5 0 1 0 -29 0M356.9 2173.2a14.5 14.5 0 1 0 29 0a14.5 14.5 0 1 0 -29 0M360.6 2183a14.5 14.5 0 1 0 29 0a14.5 14.5 0 1 0 -29 0M365.3 2192.4a14.5 14.5 0 1 0 29 0a14.5 14.5 0 1 0 -29 0M370.1 2201.7a14.5 14.5 0 1 0 29 0a14.5 14.5 0 1 0 -29 0M374.9 2211.1a14.5 14.5 0 1 0 29 0a14.5 14.5 0 1 0 -29 0M381.7 2219a14.5 14.5 0 1 0 29 0a14.5 14.5 0 1 0 -29 0M388.8 2226.8a14.5 14.5 0 1 0 29 0a14.5 14.5 0 1 0 -29 0M396.2 2234.1a14.5 14.5 0 1 0 29 0a14.5 14.5 0 1 0 -29 0M405.4 2239.1a14.5 14.5 0 1 0 29 0a14.5 14.5 0 1 0 -29 0M414.6 2244.1a14.5 14.5 0 1 0 29 0a14.5 14.5 0 1 0 -29 0M423.9 2249a14.5 14.5 0 1 0 29 0a14.5 14.5 0 1 0 -29 0M433.7 2252.7a14.5 14.5 0 1 0 29 0a14.5 14.5 0 1 0 -29 0M443.5 2256.5a14.5 14.5 0 1 0 29 0a14.5 14.5 0 1 0 -29 0M453.4 2260.1a14.5 14.5 0 1 0 29 0a14.5 14.5 0 1 0 -29 0M463.4 2263.4a14.5 14.5 0 1 0 29 0a14.5 14.5 0 1 0 -29 0M473.4 2266.6a14.5 14.5 0 1 0 29 0a14.5 14.5 0 1 0 -29 0M483.3 2269.9a14.5 14.5 0 1 0 29 0a14.5 14.5 0 1 0 -29 0M493.3 2273.3a14.5 14.5 0 1 0 29 0a14.5 14.5 0 1 0 -29 0M503.3 2276.6a14.5 14.5 0 1 0 29 0a14.5 14.5 0 1 0 -29 0M513.2 2279.9a14.5 14.5 0 1 0 29 0a14.5 14.5 0 1 0 -29 0M523.2 2283a14.5 14.5 0 1 0 29 0a14.5 14.5 0 1 0 -29 0M533.3 2286.1a14.5 14.5 0 1 0 29 0a14.5 14.5 0 1 0 -29 0M543.3 2289.1a14.5 14.5 0 1 0 29 0a14.5 14.5 0 1 0 -29 0M553.4 2292.2a14.5 14.5 0 1 0 29 0a14.5 14.5 0 1 0 -29 0M563.4 2295.3a14.5 14.5 0 1 0 29 0a14.5 14.5 0 1 0 -29 0M614.9 2307.5a14.5 14.5 0 1 0 29 0a14.5 14.5 0 1 0 -29 0M665.7 2318.8a14.5 14.5 0 1 0 29 0a14.5 14.5 0 1 0 -29 0M716.6 2329.4a14.5 14.5 0 1 0 29 0a14.5 14.5 0 1 0 -29 0M767.5 2340a14.5 14.5 0 1 0 29 0a14.5 14.5 0 1 0 -29 0M818.4 2350.5a14.5 14.5 0 1 0 29 0a14.5 14.5 0 1 0 -29 0M869.2 2361.4a14.5 14.5 0 1 0 29 0a14.5 14.5 0 1 0 -29 0M920.1 2374a14.5 14.5 0 1 0 29 0a14.5 14.5 0 1 0 -29 0M971 2385.9a14.5 14.5 0 1 0 29 0a14.5 14.5 0 1 0 -29 0M1021.8 2397a14.5 14.5 0 1 0 29 0a14.5 14.5 0 1 0 -29 0M1072.7 2411.7a14.5 14.5 0 1 0 29 0a14.5 14.5 0 1 0 -29 0M1123.6 2426.4a14.5 14.5 0 1 0 29 0a14.5 14.5 0 1 0 -29 0M1174.5 2441.2a14.5 14.5 0 1 0 29 0a14.5 14.5 0 1 0 -29 0M1225.4 2458a14.5 14.5 0 1 0 29 0a14.5 14.5 0 1 0 -29 0M1276.2 2475a14.5 14.5 0 1 0 29 0a14.5 14.5 0 1 0 -29 0M1327.1 2491.8a14.5 14.5 0 1 0 29 0a14.5 14.5 0 1 0 -29 0M1378 2508.6a14.5 14.5 0 1 0 29 0a14.5 14.5 0 1 0 -29 0M1428.8 2527a14.5 14.5 0 1 0 29 0a14.5 14.5 0 1 0 -29 0M1479.7 2546a14.5 14.5 0 1 0 29 0a14.5 14.5 0 1 0 -29 0M1530.6 2566.3a14.5 14.5 0 1 0 29 0a14.5 14.5 0 1 0 -29 0M1581.5 2585.2a14.5 14.5 0 1 0 29 0a14.5 14.5 0 1 0 -29 0M1632.3 2605.5a14.5 14.5 0 1 0 29 0a14.5 14.5 0 1 0 -29 0"/>
<path fill="none" stroke="#8000ff" stroke-width="3.4" stroke-linecap="butt" d="M320.9 1964.8l26.8 26.8M320.9 1991.6l26.8 -26.8M321.2 1973.3l26.8 26.8M321.2 2000.1l26.8 -26.8M321.5 1981.8l26.8 26.8M321.5 2008.6l26.8 -26.8M321.8 1990.3l26.8 26.8M321.8 2017.1l26.8 -26.8M322.2 1998.8l26.8 26.8M322.2 2025.6l26.8 -26.8M322.6 2007.3l26.8 26.8M322.6 2034.1l26.8 -26.8M323.1 2015.8l26.8 26.8M323.1 2042.6l26.8 -26.8M323.5 2024.3l26.8 26.8M323.5 2051.1l26.8 -26.8M323.8 2032.8l26.8 26.8M323.8 2059.6l26.8 -26.8M324.2 2041.3l26.8 26.8M324.2 2068.1l26.8 -26.8M324.5 2049.8l26.8 26.8M324.5 2076.6l26.8 -26.8M324.9 2058.3l26.8 26.8M324.9 2085.1l26.8 -26.8M325.2 2066.8l26.8 26.8M325.2 2093.6l26.8 -26.8M325.5 2075.2l26.8 26.8M325.5 2102l26.8 -26.8M326.2 2083.7l26.8 26.8M326.2 2110.5l26.8 -26.8M326.8 2092.2l26.8 26.8M326.8 2119l26.8 -26.8M327.5 2100.7l26.8 26.8M327.5 2127.5l26.8 -26.8M328.2 2109.1l26.8 26.8M328.2 2135.9l26.8 -26.8M328.9 2117.6l26.8 26.8M328.9 2144.4l26.8 -26.8M329.6 2126.1l26.8 26.8M329.6 2152.9l26.8 -26.8M330.8 2134.5l26.8 26.8M330.8 2161.3l26.8 -26.8M332.1 2142.9l26.8 26.8M332.1 2169.7l26.8 -26.8M333.4 2151.3l26.8 26.8M333.4 2178.1l26.8 -26.8M334.7 2159.7l26.8 26.8M334.7 2186.5l26.8 -26.8M336.1 2168.1l26.8 26.8M336.1 2194.9l26.8 -26.8M337.5 2176.5l26.8 26.8M337.5 2203.3l26.8 -26.8M339.1 2184.8l26.8 26.8M339.1 2211.6l26.8 -26.8M340.6 2193.2l26.8 26.8M340.6 2220l26.8 -26.8M342.2 2201.5l26.8 26.8M342.2 2228.3l26.8 -26.8M343.7 2209.9l26.8 26.8M343.7 2236.7l26.8 -26.8M345.5 2218.2l26.8 26.8M345.5 2245l26.8 -26.8M347.7 2226.4l26.8 26.8M347.7 2253.2l26.8 -26.8M349.9 2234.6l26.8 26.8M349.9 2261.4l26.8 -26.8M352.1 2242.8l26.8 26.8M352.1 2269.6l26.8 -26.8M354.5 2251l26.8 26.8M354.5 2277.8l26.8 -26.8M357.6 2258.9l26.8 26.8M357.6 2285.7l26.8 -26.8M360.7 2266.8l26.8 26.8M360.7 2293.6l26.8 -26.8M363.9 2274.7l26.8 26.8M363.9 2301.5l26.8 -26.8M367.9 2282.1l26.8 26.8M367.9 2308.9l26.8 -26.8M372.3 2289.4l26.8 26.8M372.3 2316.2l26.8 -26.8M376.7 2296.7l26.8 26.8M376.7 2323.5l26.8 -26.8M383 2302.4l26.8 26.8M383 2329.2l26.8 -26.8M389.3 2308.1l26.8 26.8M389.3 2334.9l26.8 -26.8M395.9 2313.2l26.8 26.8M395.9 2340l26.8 -26.8M404.2 2315l26.8 26.8M404.2 2341.8l26.8 -26.8M412.5 2316.7l26.8 26.8M412.5 2343.5l26.8 -26.8M420.8 2318.4l26.8 26.8M420.8 2345.2l26.8 -26.8M429.2 2320l26.8 26.8M429.2 2346.8l26.8 -26.8M437.5 2321.6l26.8 26.8M437.5 2348.4l26.8 -26.8M445.9 2323.2l26.8 26.8M445.9 2350l26.8 -26.8M454.3 2324.5l26.8 26.8M454.3 2351.3l26.8 -26.8M462.7 2325.6l26.8 26.8M462.7 2352.4l26.8 -26.8M471.1 2326.7l26.8 26.8M471.1 2353.5l26.8 -26.8M479.6 2327.8l26.8 26.8M479.6 2354.6l26.8 -26.8M488 2328.8l26.8 26.8M488 2355.6l26.8 -26.8M496.5 2329.7l26.8 26.8M496.5 2356.5l26.8 -26.8M504.9 2330.6l26.8 26.8M504.9 2357.4l26.8 -26.8M513.4 2331.5l26.8 26.8M513.4 2358.3l26.8 -26.8M521.8 2332.3l26.8 26.8M521.8 2359.1l26.8 -26.8M530.3 2333.1l26.8 26.8M530.3 2359.9l26.8 -26.8M538.8 2333.9l26.8 26.8M538.8 2360.7l26.8 -26.8M547.2 2334.7l26.8 26.8M547.2 2361.5l26.8 -26.8M555.7 2335.5l26.8 26.8M555.7 2362.3l26.8 -26.8M564.1 2336.4l26.8 26.8M564.1 2363.2l26.8 -26.8M572.6 2337.2l26.8 26.8M572.6 2364l26.8 -26.8M616 2338.3l26.8 26.8M616 2365.1l26.8 -26.8M666.8 2346.8l26.8 26.8M666.8 2373.6l26.8 -26.8M717.7 2353.1l26.8 26.8M717.7 2379.9l26.8 -26.8M768.6 2358.6l26.8 26.8M768.6 2385.4l26.8 -26.8M819.5 2367.8l26.8 26.8M819.5 2394.6l26.8 -26.8M870.3 2378.4l26.8 26.8M870.3 2405.2l26.8 -26.8M921.2 2388.1l26.8 26.8M921.2 2414.9l26.8 -26.8M972.1 2399.5l26.8 26.8M972.1 2426.3l26.8 -26.8M1022.9 2410.4l26.8 26.8M1022.9 2437.2l26.8 -26.8M1073.8 2423.6l26.8 26.8M1073.8 2450.4l26.8 -26.8M1124.7 2437.1l26.8 26.8M1124.7 2463.9l26.8 -26.8M1175.6 2451l26.8 26.8M1175.6 2477.8l26.8 -26.8M1226.5 2465.6l26.8 26.8M1226.5 2492.4l26.8 -26.8M1277.3 2480.5l26.8 26.8M1277.3 2507.3l26.8 -26.8M1328.2 2495.2l26.8 26.8M1328.2 2522l26.8 -26.8M1379.1 2512.1l26.8 26.8M1379.1 2538.9l26.8 -26.8M1429.9 2531.4l26.8 26.8M1429.9 2558.2l26.8 -26.8M1480.8 2547.8l26.8 26.8M1480.8 2574.6l26.8 -26.8M1531.7 2565.5l26.8 26.8M1531.7 2592.3l26.8 -26.8M1582.6 2583.2l26.8 26.8M1582.6 2610l26.8 -26.8"/>
<path fill="none" stroke="#ff8000" stroke-width="3.4" stroke-linecap="butt" d="M319.5 1679.5l26.8 26.8M319.5 1706.3l26.8 -26.8M320.3 1738.6l26.8 26.8M320.3 1765.4l26.8 -26.8M321.2 1781.6l26.8 26.8M321.2 1808.4l26.8 -26.8M322 1813.6l26.8 26.8M322 1840.4l26.8 -26.8M322.9 1843.6l26.8 26.8M322.9 1870.4l26.8 -26.8M323.7 1871.7l26.8 26.8M323.7 1898.5l26.8 -26.8M325 1898.7l26.8 26.8M325 1925.5l26.8 -26.8M326.2 1923.2l26.8 26.8M326.2 1950l26.8 -26.8M327 1937.4l26.8 26.8M327 1964.2l26.8 -26.8M327.7 1946.8l26.8 26.8M327.7 1973.6l26.8 -26.8M328.4 1956.3l26.8 26.8M328.4 1983.1l26.8 -26.8M329 1965.8l26.8 26.8M329 1992.6l26.8 -26.8M329.7 1975.3l26.8 26.8M329.7 2002.1l26.8 -26.8M330.3 1984.8l26.8 26.8M330.3 2011.6l26.8 -26.8M331 1994.2l26.8 26.8M331 2021l26.8 -26.8M331.7 2003.7l26.8 26.8M331.7 2030.5l26.8 -26.8M332.4 2013.2l26.8 26.8M332.4 2040l26.8 -26.8M333.1 2022.7l26.8 26.8M333.1 2049.5l26.8 -26.8M333.9 2032.1l26.8 26.8M333.9 2058.9l26.8 -26.8M334.6 2041.6l26.8 26.8M334.6 2068.4l26.8 -26.8M335.6 2051l26.8 26.8M335.6 2077.8l26.8 -26.8M336.9 2060.5l26.8 26.8M336.9 2087.3l26.8 -26.8M338.2 2069.9l26.8 26.8M338.2 2096.7l26.8 -26.8M339.6 2079.3l26.8 26.8M339.6 2106.1l26.8 -26.8M341 2088.7l26.8 26.8M341 2115.5l26.8 -26.8M342.7 2098l26.8 26.8M342.7 2124.8l26.8 -26.8M344.5 2107.3l26.8 26.8M344.5 2134.1l26.8 -26.8M346.2 2116.7l26.8 26.8M346.2 2143.5l26.8 -26.8M348 2126l26.8 26.8M348 2152.8l26.8 -26.8M350.5 2135.1l26.8 26.8M350.5 2161.9l26.8 -26.8M353.5 2144.2l26.8 26.8M353.5 2171l26.8 -26.8M356.5 2153.2l26.8 26.8M356.5 2180l26.8 -26.8M359.5 2162.2l26.8 26.8M359.5 2189l26.8 -26.8M362.7 2171.1l26.8 26.8M362.7 2197.9l26.8 -26.8M366.7 2179.7l26.8 26.8M366.7 2206.5l26.8 -26.8M370.7 2188.3l26.8 26.8M370.7 2215.1l26.8 -26.8M374.7 2197l26.8 26.8M374.7 2223.8l26.8 -26.8M378.7 2205.6l26.8 26.8M378.7 2232.4l26.8 -26.8M384 2213.3l26.8 26.8M384 2240.1l26.8 -26.8M390.7 2220l26.8 26.8M390.7 2246.8l26.8 -26.8M397.4 2226.8l26.8 26.8M397.4 2253.6l26.8 -26.8M404.1 2233.5l26.8 26.8M404.1 2260.3l26.8 -26.8M411.4 2239.5l26.8 26.8M411.4 2266.3l26.8 -26.8M419.3 2244.8l26.8 26.8M419.3 2271.6l26.8 -26.8M427.2 2250.1l26.8 26.8M427.2 2276.9l26.8 -26.8M435.1 2255.4l26.8 26.8M435.1 2282.2l26.8 -26.8M443 2260.6l26.8 26.8M443 2287.4l26.8 -26.8M451.3 2265.1l26.8 26.8M451.3 2291.9l26.8 -26.8M460.4 2267.9l26.8 26.8M460.4 2294.7l26.8 -26.8M469.5 2270.6l26.8 26.8M469.5 2297.4l26.8 -26.8M478.6 2273.3l26.8 26.8M478.6 2300.1l26.8 -26.8M487.6 2276.1l26.8 26.8M487.6 2302.9l26.8 -26.8M496.7 2278.8l26.8 26.8M496.7 2305.6l26.8 -26.8M505.9 2281.5l26.8 26.8M505.9 2308.3l26.8 -26.8M515 2284l26.8 26.8M515 2310.8l26.8 -26.8M524.2 2286.6l26.8 26.8M524.2 2313.4l26.8 -26.8M533.3 2289.2l26.8 26.8M533.3 2316l26.8 -26.8M542.5 2291.7l26.8 26.8M542.5 2318.5l26.8 -26.8M551.6 2294.3l26.8 26.8M551.6 2321.1l26.8 -26.8M560.8 2296.8l26.8 26.8M560.8 2323.6l26.8 -26.8M569.9 2299.4l26.8 26.8M569.9 2326.2l26.8 -26.8M616 2313l26.8 26.8M616 2339.8l26.8 -26.8M666.8 2321.5l26.8 26.8M666.8 2348.3l26.8 -26.8M717.7 2332l26.8 26.8M717.7 2358.8l26.8 -26.8M768.6 2341.3l26.8 26.8M768.6 2368.1l26.8 -26.8M819.5 2351l26.8 26.8M819.5 2377.8l26.8 -26.8M870.3 2360.6l26.8 26.8M870.3 2387.4l26.8 -26.8M921.2 2372l26.8 26.8M921.2 2398.8l26.8 -26.8M972.1 2382.6l26.8 26.8M972.1 2409.4l26.8 -26.8M1022.9 2395.6l26.8 26.8M1022.9 2422.4l26.8 -26.8M1073.8 2408.8l26.8 26.8M1073.8 2435.6l26.8 -26.8M1124.7 2423.6l26.8 26.8M1124.7 2450.4l26.8 -26.8M1175.6 2438.3l26.8 26.8M1175.6 2465.1l26.8 -26.8M1226.5 2455.2l26.8 26.8M1226.5 2482l26.8 -26.8M1277.3 2472.1l26.8 26.8M1277.3 2498.9l26.8 -26.8M1328.2 2486.8l26.8 26.8M1328.2 2513.6l26.8 -26.8M1379.1 2502.8l26.8 26.8M1379.1 2529.6l26.8 -26.8M1429.9 2516.2l26.8 26.8M1429.9 2543l26.8 -26.8M1480.8 2533.9l26.8 26.8M1480.8 2560.7l26.8 -26.8M1531.7 2554.1l26.8 26.8M1531.7 2580.9l26.8 -26.8M1582.6 2571.8l26.8 26.8M1582.6 2598.6l26.8 -26.8M1633.4 2592.1l26.8 26.8M1633.4 2618.9l26.8 -26.8"/>
<rect x="1125.8" y="1647" width="644.2" height="233.9" fill="none" stroke="#111" stroke-width="3.2"/>
<circle cx="1185.3" cy="1678" r="13.8" fill="none" stroke="#0000ff" stroke-width="3.6"/>
<text font-size="45.5" transform="translate(1251 1694.5) scale(1.0570 1)">ZFC (HumAfFt-SPIONs)</text>
<circle cx="1185.3" cy="1735.7" r="13.8" fill="none" stroke="#ff0000" stroke-width="3.6"/>
<text font-size="45.5" transform="translate(1251 1751.5) scale(1.0570 1)">FC (HumAfFt-SPIONs)</text>
<path fill="none" stroke="#8000ff" stroke-width="3.6" d="M1171.3 1779.4l28 28M1171.3 1807.4l28 -28"/>
<text font-size="45.5" transform="translate(1251 1809.3) scale(1.0570 1)">ZFC (SPIONs)</text>
<path fill="none" stroke="#ff8000" stroke-width="3.6" d="M1171.3 1837l28 28M1171.3 1865l28 -28"/>
<text font-size="45.5" transform="translate(1251 1866.8) scale(1.0570 1)">FC (SPIONs)</text>
<path fill="none" stroke="#000" stroke-width="3.4" stroke-linecap="square" d="M342.3 2997.6V4089.6M212 4089.6H1906.5M342.3 3998.6h20M342.3 3816.6h20M342.3 3634.6h20M342.3 3452.6h20M342.3 3270.6h20M342.3 3088.6h20M342.3 3907.6h8.5M342.3 3725.6h8.5M342.3 3543.6h8.5M342.3 3361.6h8.5M342.3 3179.6h8.5M342.3 2997.6h8.5M603.8 4089.6v-20M864.1 4089.6v-20M1124.4 4089.6v-20M1384.7 4089.6v-20M1645 4089.6v-20M1905.3 4089.6v-20M213.3 4089.6v-8.5M473.6 4089.6v-8.5M734 4089.6v-8.5M994.2 4089.6v-8.5M1254.6 4089.6v-8.5M1514.9 4089.6v-8.5M1775.2 4089.6v-8.5"/>
<text x="321" y="4013.1" font-size="44" font-weight="bold" text-anchor="end">0.0</text>
<text x="321" y="3831.1" font-size="44" font-weight="bold" text-anchor="end">0.2</text>
<text x="321" y="3649.1" font-size="44" font-weight="bold" text-anchor="end">0.4</text>
<text x="321" y="3467.1" font-size="44" font-weight="bold" text-anchor="end">0.6</text>
<text x="321" y="3285.1" font-size="44" font-weight="bold" text-anchor="end">0.8</text>
<text x="321" y="3103.1" font-size="44" font-weight="bold" text-anchor="end">1.0</text>
<text x="343.5" y="4144" font-size="44" font-weight="bold" text-anchor="middle">0</text>
<text x="603.8" y="4144" font-size="44" font-weight="bold" text-anchor="middle">50</text>
<text x="864.1" y="4144" font-size="44" font-weight="bold" text-anchor="middle">100</text>
<text x="1124.4" y="4144" font-size="44" font-weight="bold" text-anchor="middle">150</text>
<text x="1384.7" y="4144" font-size="44" font-weight="bold" text-anchor="middle">200</text>
<text x="1645" y="4144" font-size="44" font-weight="bold" text-anchor="middle">250</text>
<text x="1905.3" y="4144" font-size="44" font-weight="bold" text-anchor="middle">300</text>
<text transform="translate(207.8 3551) rotate(-90)" font-size="52" font-weight="bold" text-anchor="middle">Normalized magnetization</text>
<text x="1061.5" y="4225.5" font-size="52" font-weight="bold" text-anchor="middle"><tspan font-style="italic">T</tspan> (K)</text>
<text font-size="106" stroke="#000" stroke-width="3.2" transform="translate(35 2993.5) scale(0.78 1)">C</text>
<path fill="none" stroke="#0000ff" stroke-width="3.7" d="M337.5 3259a14.5 14.5 0 1 0 29 0a14.5 14.5 0 1 0 -29 0M338 3308a14.5 14.5 0 1 0 29 0a14.5 14.5 0 1 0 -29 0M338.5 3354a14.5 14.5 0 1 0 29 0a14.5 14.5 0 1 0 -29 0M339 3389a14.5 14.5 0 1 0 29 0a14.5 14.5 0 1 0 -29 0M340 3427a14.5 14.5 0 1 0 29 0a14.5 14.5 0 1 0 -29 0M341.1 3442a14.5 14.5 0 1 0 29 0a14.5 14.5 0 1 0 -29 0M341.9 3452.5a14.5 14.5 0 1 0 29 0a14.5 14.5 0 1 0 -29 0M342.6 3463a14.5 14.5 0 1 0 29 0a14.5 14.5 0 1 0 -29 0M343.2 3473.5a14.5 14.5 0 1 0 29 0a14.5 14.5 0 1 0 -29 0M343.7 3484a14.5 14.5 0 1 0 29 0a14.5 14.5 0 1 0 -29 0M344.2 3494.4a14.5 14.5 0 1 0 29 0a14.5 14.5 0 1 0 -29 0M344.7 3504.9a14.5 14.5 0 1 0 29 0a14.5 14.5 0 1 0 -29 0M345.3 3515.4a14.5 14.5 0 1 0 29 0a14.5 14.5 0 1 0 -29 0M345.8 3525.9a14.5 14.5 0 1 0 29 0a14.5 14.5 0 1 0 -29 0M346.3 3536.4a14.5 14.5 0 1 0 29 0a14.5 14.5 0 1 0 -29 0M347.4 3546.8a14.5 14.5 0 1 0 29 0a14.5 14.5 0 1 0 -29 0M348.7 3557.2a14.5 14.5 0 1 0 29 0a14.5 14.5 0 1 0 -29 0M349.7 3567.7a14.5 14.5 0 1 0 29 0a14.5 14.5 0 1 0 -29 0M350.5 3578.2a14.5 14.5 0 1 0 29 0a14.5 14.5 0 1 0 -29 0M351.3 3588.6a14.5 14.5 0 1 0 29 0a14.5 14.5 0 1 0 -29 0M352.4 3599.1a14.5 14.5 0 1 0 29 0a14.5 14.5 0 1 0 -29 0M353.8 3609.5a14.5 14.5 0 1 0 29 0a14.5 14.5 0 1 0 -29 0M355.2 3619.9a14.5 14.5 0 1 0 29 0a14.5 14.5 0 1 0 -29 0M356.6 3630.3a14.5 14.5 0 1 0 29 0a14.5 14.5 0 1 0 -29 0M358 3640.7a14.5 14.5 0 1 0 29 0a14.5 14.5 0 1 0 -29 0M359.3 3651.1a14.5 14.5 0 1 0 29 0a14.5 14.5 0 1 0 -29 0M361.1 3661.5a14.5 14.5 0 1 0 29 0a14.5 14.5 0 1 0 -29 0M362.9 3671.8a14.5 14.5 0 1 0 29 0a14.5 14.5 0 1 0 -29 0M364.7 3682.1a14.5 14.5 0 1 0 29 0a14.5 14.5 0 1 0 -29 0M368.1 3692.1a14.5 14.5 0 1 0 29 0a14.5 14.5 0 1 0 -29 0M371.6 3702a14.5 14.5 0 1 0 29 0a14.5 14.5 0 1 0 -29 0M377 3710.9a14.5 14.5 0 1 0 29 0a14.5 14.5 0 1 0 -29 0M383.1 3719.5a14.5 14.5 0 1 0 29 0a14.5 14.5 0 1 0 -29 0M390.8 3726.6a14.5 14.5 0 1 0 29 0a14.5 14.5 0 1 0 -29 0M398.9 3733.2a14.5 14.5 0 1 0 29 0a14.5 14.5 0 1 0 -29 0M407.7 3738.9a14.5 14.5 0 1 0 29 0a14.5 14.5 0 1 0 -29 0M417.1 3743.4a14.5 14.5 0 1 0 29 0a14.5 14.5 0 1 0 -29 0M427.3 3745.8a14.5 14.5 0 1 0 29 0a14.5 14.5 0 1 0 -29 0M437.5 3748.3a14.5 14.5 0 1 0 29 0a14.5 14.5 0 1 0 -29 0M447.8 3750.2a14.5 14.5 0 1 0 29 0a14.5 14.5 0 1 0 -29 0M458.2 3751.8a14.5 14.5 0 1 0 29 0a14.5 14.5 0 1 0 -29 0M468.6 3753.4a14.5 14.5 0 1 0 29 0a14.5 14.5 0 1 0 -29 0M479 3754.4a14.5 14.5 0 1 0 29 0a14.5 14.5 0 1 0 -29 0M489.5 3755.4a14.5 14.5 0 1 0 29 0a14.5 14.5 0 1 0 -29 0M499.9 3756.4a14.5 14.5 0 1 0 29 0a14.5 14.5 0 1 0 -29 0M510.4 3757.1a14.5 14.5 0 1 0 29 0a14.5 14.5 0 1 0 -29 0M520.9 3757.8a14.5 14.5 0 1 0 29 0a14.5 14.5 0 1 0 -29 0M531.3 3758.5a14.5 14.5 0 1 0 29 0a14.5 14.5 0 1 0 -29 0M541.8 3759.2a14.5 14.5 0 1 0 29 0a14.5 14.5 0 1 0 -29 0M552.3 3759.9a14.5 14.5 0 1 0 29 0a14.5 14.5 0 1 0 -29 0M562.8 3760.6a14.5 14.5 0 1 0 29 0a14.5 14.5 0 1 0 -29 0M573.2 3761.3a14.5 14.5 0 1 0 29 0a14.5 14.5 0 1 0 -29 0M583.7 3762a14.5 14.5 0 1 0 29 0a14.5 14.5 0 1 0 -29 0M594.2 3762.7a14.5 14.5 0 1 0 29 0a14.5 14.5 0 1 0 -29 0M641.4 3769.9a14.5 14.5 0 1 0 29 0a14.5 14.5 0 1 0 -29 0M693.4 3775.8a14.5 14.5 0 1 0 29 0a14.5 14.5 0 1 0 -29 0M745.5 3783.3a14.5 14.5 0 1 0 29 0a14.5 14.5 0 1 0 -29 0M797.5 3791a14.5 14.5 0 1 0 29 0a14.5 14.5 0 1 0 -29 0M849.6 3800.2a14.5 14.5 0 1 0 29 0a14.5 14.5 0 1 0 -29 0M901.7 3808.6a14.5 14.5 0 1 0 29 0a14.5 14.5 0 1 0 -29 0M953.7 3819.2a14.5 14.5 0 1 0 29 0a14.5 14.5 0 1 0 -29 0M1005.8 3827.6a14.5 14.5 0 1 0 29 0a14.5 14.5 0 1 0 -29 0M1057.8 3838.6a14.5 14.5 0 1 0 29 0a14.5 14.5 0 1 0 -29 0M1109.9 3853.8a14.5 14.5 0 1 0 29 0a14.5 14.5 0 1 0 -29 0M1162 3866.5a14.5 14.5 0 1 0 29 0a14.5 14.5 0 1 0 -29 0M1214 3879a14.5 14.5 0 1 0 29 0a14.5 14.5 0 1 0 -29 0M1266.1 3888.4a14.5 14.5 0 1 0 29 0a14.5 14.5 0 1 0 -29 0M1318.1 3891.8a14.5 14.5 0 1 0 29 0a14.5 14.5 0 1 0 -29 0M1370.2 3906.5a14.5 14.5 0 1 0 29 0a14.5 14.5 0 1 0 -29 0M1422.3 3921a14.5 14.5 0 1 0 29 0a14.5 14.5 0 1 0 -29 0M1474.3 3939.9a14.5 14.5 0 1 0 29 0a14.5 14.5 0 1 0 -29 0M1526.4 3956.5a14.5 14.5 0 1 0 29 0a14.5 14.5 0 1 0 -29 0M1578.4 3973.5a14.5 14.5 0 1 0 29 0a14.5 14.5 0 1 0 -29 0M1630.5 3993.7a14.5 14.5 0 1 0 29 0a14.5 14.5 0 1 0 -29 0M1682.6 4000.8a14.5 14.5 0 1 0 29 0a14.5 14.5 0 1 0 -29 0"/>
<path fill="none" stroke="#ff0000" stroke-width="3.7" d="M338.4 3090.4a14.5 14.5 0 1 0 29 0a14.5 14.5 0 1 0 -29 0M339.2 3143.5a14.5 14.5 0 1 0 29 0a14.5 14.5 0 1 0 -29 0M340.1 3187.3a14.5 14.5 0 1 0 29 0a14.5 14.5 0 1 0 -29 0M340.9 3222.7a14.5 14.5 0 1 0 29 0a14.5 14.5 0 1 0 -29 0M342.9 3260.2a14.5 14.5 0 1 0 29 0a14.5 14.5 0 1 0 -29 0M343.8 3285.9a14.5 14.5 0 1 0 29 0a14.5 14.5 0 1 0 -29 0M344.7 3311.5a14.5 14.5 0 1 0 29 0a14.5 14.5 0 1 0 -29 0M346.4 3335.4a14.5 14.5 0 1 0 29 0a14.5 14.5 0 1 0 -29 0M346.7 3341.7a14.5 14.5 0 1 0 29 0a14.5 14.5 0 1 0 -29 0M347.2 3352.2a14.5 14.5 0 1 0 29 0a14.5 14.5 0 1 0 -29 0M347.7 3362.7a14.5 14.5 0 1 0 29 0a14.5 14.5 0 1 0 -29 0M348.4 3373.2a14.5 14.5 0 1 0 29 0a14.5 14.5 0 1 0 -29 0M349.1 3383.6a14.5 14.5 0 1 0 29 0a14.5 14.5 0 1 0 -29 0M349.8 3394.1a14.5 14.5 0 1 0 29 0a14.5 14.5 0 1 0 -29 0M350.5 3404.6a14.5 14.5 0 1 0 29 0a14.5 14.5 0 1 0 -29 0M351.2 3415.1a14.5 14.5 0 1 0 29 0a14.5 14.5 0 1 0 -29 0M352.1 3425.5a14.5 14.5 0 1 0 29 0a14.5 14.5 0 1 0 -29 0M353.1 3436a14.5 14.5 0 1 0 29 0a14.5 14.5 0 1 0 -29 0M354.1 3446.4a14.5 14.5 0 1 0 29 0a14.5 14.5 0 1 0 -29 0M355.2 3456.9a14.5 14.5 0 1 0 29 0a14.5 14.5 0 1 0 -29 0M356.2 3467.3a14.5 14.5 0 1 0 29 0a14.5 14.5 0 1 0 -29 0M357.3 3477.8a14.5 14.5 0 1 0 29 0a14.5 14.5 0 1 0 -29 0M358.6 3488.2a14.5 14.5 0 1 0 29 0a14.5 14.5 0 1 0 -29 0M360 3498.6a14.5 14.5 0 1 0 29 0a14.5 14.5 0 1 0 -29 0M361.4 3509a14.5 14.5 0 1 0 29 0a14.5 14.5 0 1 0 -29 0M362.8 3519.4a14.5 14.5 0 1 0 29 0a14.5 14.5 0 1 0 -29 0M364.1 3529.8a14.5 14.5 0 1 0 29 0a14.5 14.5 0 1 0 -29 0M365.5 3540.2a14.5 14.5 0 1 0 29 0a14.5 14.5 0 1 0 -29 0M367.3 3550.6a14.5 14.5 0 1 0 29 0a14.5 14.5 0 1 0 -29 0M369.1 3560.9a14.5 14.5 0 1 0 29 0a14.5 14.5 0 1 0 -29 0M370.9 3571.3a14.5 14.5 0 1 0 29 0a14.5 14.5 0 1 0 -29 0M373.3 3581.5a14.5 14.5 0 1 0 29 0a14.5 14.5 0 1 0 -29 0M376.1 3591.6a14.5 14.5 0 1 0 29 0a14.5 14.5 0 1 0 -29 0M379.2 3601.6a14.5 14.5 0 1 0 29 0a14.5 14.5 0 1 0 -29 0M383.5 3611.2a14.5 14.5 0 1 0 29 0a14.5 14.5 0 1 0 -29 0M388 3620.6a14.5 14.5 0 1 0 29 0a14.5 14.5 0 1 0 -29 0M394.6 3628.8a14.5 14.5 0 1 0 29 0a14.5 14.5 0 1 0 -29 0M401.2 3637a14.5 14.5 0 1 0 29 0a14.5 14.5 0 1 0 -29 0M408.6 3644.4a14.5 14.5 0 1 0 29 0a14.5 14.5 0 1 0 -29 0M416 3651.8a14.5 14.5 0 1 0 29 0a14.5 14.5 0 1 0 -29 0M423.5 3659.3a14.5 14.5 0 1 0 29 0a14.5 14.5 0 1 0 -29 0M430.9 3666.7a14.5 14.5 0 1 0 29 0a14.5 14.5 0 1 0 -29 0M439.9 3672a14.5 14.5 0 1 0 29 0a14.5 14.5 0 1 0 -29 0M449.3 3676.6a14.5 14.5 0 1 0 29 0a14.5 14.5 0 1 0 -29 0M459.2 3680.2a14.5 14.5 0 1 0 29 0a14.5 14.5 0 1 0 -29 0M469.1 3683.6a14.5 14.5 0 1 0 29 0a14.5 14.5 0 1 0 -29 0M479.1 3686.9a14.5 14.5 0 1 0 29 0a14.5 14.5 0 1 0 -29 0M489.1 3690.1a14.5 14.5 0 1 0 29 0a14.5 14.5 0 1 0 -29 0M499.1 3693.1a14.5 14.5 0 1 0 29 0a14.5 14.5 0 1 0 -29 0M509.3 3695.9a14.5 14.5 0 1 0 29 0a14.5 14.5 0 1 0 -29 0M519.4 3698.8a14.5 14.5 0 1 0 29 0a14.5 14.5 0 1 0 -29 0M529.6 3700.9a14.5 14.5 0 1 0 29 0a14.5 14.5 0 1 0 -29 0M539.9 3703a14.5 14.5 0 1 0 29 0a14.5 14.5 0 1 0 -29 0M550.2 3705a14.5 14.5 0 1 0 29 0a14.5 14.5 0 1 0 -29 0M560.5 3707a14.5 14.5 0 1 0 29 0a14.5 14.5 0 1 0 -29 0M570.9 3708.9a14.5 14.5 0 1 0 29 0a14.5 14.5 0 1 0 -29 0M581.2 3710.9a14.5 14.5 0 1 0 29 0a14.5 14.5 0 1 0 -29 0M591.5 3712.8a14.5 14.5 0 1 0 29 0a14.5 14.5 0 1 0 -29 0M641.4 3720.1a14.5 14.5 0 1 0 29 0a14.5 14.5 0 1 0 -29 0M693.4 3730.6a14.5 14.5 0 1 0 29 0a14.5 14.5 0 1 0 -29 0M745.5 3767.3a14.5 14.5 0 1 0 29 0a14.5 14.5 0 1 0 -29 0M797.5 3749.6a14.5 14.5 0 1 0 29 0a14.5 14.5 0 1 0 -29 0M849.6 3762.3a14.5 14.5 0 1 0 29 0a14.5 14.5 0 1 0 -29 0M901.7 3771.5a14.5 14.5 0 1 0 29 0a14.5 14.5 0 1 0 -29 0M953.7 3781.2a14.5 14.5 0 1 0 29 0a14.5 14.5 0 1 0 -29 0M1005.8 3792.6a14.5 14.5 0 1 0 29 0a14.5 14.5 0 1 0 -29 0M1057.8 3805a14.5 14.5 0 1 0 29 0a14.5 14.5 0 1 0 -29 0M1109.9 3818a14.5 14.5 0 1 0 29 0a14.5 14.5 0 1 0 -29 0M1162 3830.6a14.5 14.5 0 1 0 29 0a14.5 14.5 0 1 0 -29 0M1214 3843.3a14.5 14.5 0 1 0 29 0a14.5 14.5 0 1 0 -29 0M1266.1 3860.2a14.5 14.5 0 1 0 29 0a14.5 14.5 0 1 0 -29 0M1318.1 3872.8a14.5 14.5 0 1 0 29 0a14.5 14.5 0 1 0 -29 0M1370.2 3889.7a14.5 14.5 0 1 0 29 0a14.5 14.5 0 1 0 -29 0M1422.3 3906.5a14.5 14.5 0 1 0 29 0a14.5 14.5 0 1 0 -29 0M1474.3 3923a14.5 14.5 0 1 0 29 0a14.5 14.5 0 1 0 -29 0M1526.4 3942.2a14.5 14.5 0 1 0 29 0a14.5 14.5 0 1 0 -29 0M1578.4 3960.8a14.5 14.5 0 1 0 29 0a14.5 14.5 0 1 0 -29 0M1630.5 3977.3a14.5 14.5 0 1 0 29 0a14.5 14.5 0 1 0 -29 0M1682.6 3996a14.5 14.5 0 1 0 29 0a14.5 14.5 0 1 0 -29 0"/>
<path fill="none" stroke="#8000ff" stroke-width="3.4" stroke-linecap="butt" d="M343.6 3276.6l26.8 26.8M343.6 3303.4l26.8 -26.8M343.9 3286.7l26.8 26.8M343.9 3313.5l26.8 -26.8M344.1 3295.2l26.8 26.8M344.1 3322l26.8 -26.8M344.3 3303.7l26.8 26.8M344.3 3330.5l26.8 -26.8M344.5 3312.2l26.8 26.8M344.5 3339l26.8 -26.8M344.7 3320.7l26.8 26.8M344.7 3347.5l26.8 -26.8M344.9 3329.2l26.8 26.8M344.9 3356l26.8 -26.8M345 3337.7l26.8 26.8M345 3364.5l26.8 -26.8M345.2 3346.2l26.8 26.8M345.2 3373l26.8 -26.8M345.4 3354.7l26.8 26.8M345.4 3381.5l26.8 -26.8M345.5 3363.2l26.8 26.8M345.5 3390l26.8 -26.8M345.9 3371.7l26.8 26.8M345.9 3398.5l26.8 -26.8M346.3 3380.2l26.8 26.8M346.3 3407l26.8 -26.8M346.7 3388.7l26.8 26.8M346.7 3415.5l26.8 -26.8M347.1 3397.2l26.8 26.8M347.1 3424l26.8 -26.8M347.6 3405.7l26.8 26.8M347.6 3432.5l26.8 -26.8M347.8 3414.2l26.8 26.8M347.8 3441l26.8 -26.8M348 3422.6l26.8 26.8M348 3449.4l26.8 -26.8M348.2 3431.1l26.8 26.8M348.2 3457.9l26.8 -26.8M348.4 3439.6l26.8 26.8M348.4 3466.4l26.8 -26.8M348.7 3448.1l26.8 26.8M348.7 3474.9l26.8 -26.8M349 3456.6l26.8 26.8M349 3483.4l26.8 -26.8M349.3 3465.1l26.8 26.8M349.3 3491.9l26.8 -26.8M349.6 3473.6l26.8 26.8M349.6 3500.4l26.8 -26.8M349.9 3482.1l26.8 26.8M349.9 3508.9l26.8 -26.8M350.3 3490.6l26.8 26.8M350.3 3517.4l26.8 -26.8M350.6 3499.1l26.8 26.8M350.6 3525.9l26.8 -26.8M350.9 3507.6l26.8 26.8M350.9 3534.4l26.8 -26.8M351.2 3516.1l26.8 26.8M351.2 3542.9l26.8 -26.8M351.5 3524.6l26.8 26.8M351.5 3551.4l26.8 -26.8M351.9 3533.1l26.8 26.8M351.9 3559.9l26.8 -26.8M352.3 3541.6l26.8 26.8M352.3 3568.4l26.8 -26.8M352.8 3550.1l26.8 26.8M352.8 3576.9l26.8 -26.8M353.2 3558.5l26.8 26.8M353.2 3585.3l26.8 -26.8M353.7 3567l26.8 26.8M353.7 3593.8l26.8 -26.8M355 3575.4l26.8 26.8M355 3602.2l26.8 -26.8M356.3 3583.8l26.8 26.8M356.3 3610.6l26.8 -26.8M357.6 3592.2l26.8 26.8M357.6 3619l26.8 -26.8M359.5 3600.5l26.8 26.8M359.5 3627.3l26.8 -26.8M363 3608.2l26.8 26.8M363 3635l26.8 -26.8M366.6 3615.9l26.8 26.8M366.6 3642.7l26.8 -26.8M370.1 3623.6l26.8 26.8M370.1 3650.4l26.8 -26.8M373.6 3631.4l26.8 26.8M373.6 3658.2l26.8 -26.8M377 3639.2l26.8 26.8M377 3666l26.8 -26.8M380.4 3647l26.8 26.8M380.4 3673.8l26.8 -26.8M383.8 3654.7l26.8 26.8M383.8 3681.5l26.8 -26.8M388.6 3661.7l26.8 26.8M388.6 3688.5l26.8 -26.8M393.8 3668.4l26.8 26.8M393.8 3695.2l26.8 -26.8M399.2 3675l26.8 26.8M399.2 3701.8l26.8 -26.8M406.1 3679.9l26.8 26.8M406.1 3706.7l26.8 -26.8M413 3684.8l26.8 26.8M413 3711.6l26.8 -26.8M420.7 3688.3l26.8 26.8M420.7 3715.1l26.8 -26.8M428.6 3691.5l26.8 26.8M428.6 3718.3l26.8 -26.8M436.5 3694.6l26.8 26.8M436.5 3721.4l26.8 -26.8M444.5 3697.5l26.8 26.8M444.5 3724.3l26.8 -26.8M452.6 3700l26.8 26.8M452.6 3726.8l26.8 -26.8M460.8 3702.4l26.8 26.8M460.8 3729.2l26.8 -26.8M468.9 3704.9l26.8 26.8M468.9 3731.7l26.8 -26.8M477.3 3706.3l26.8 26.8M477.3 3733.1l26.8 -26.8M485.7 3707.8l26.8 26.8M485.7 3734.6l26.8 -26.8M494 3709.3l26.8 26.8M494 3736.1l26.8 -26.8M502.4 3710.7l26.8 26.8M502.4 3737.5l26.8 -26.8M510.8 3711.9l26.8 26.8M510.8 3738.7l26.8 -26.8M519.2 3713.2l26.8 26.8M519.2 3740l26.8 -26.8M527.6 3714.4l26.8 26.8M527.6 3741.2l26.8 -26.8M536 3715.6l26.8 26.8M536 3742.4l26.8 -26.8M544.5 3716.4l26.8 26.8M544.5 3743.2l26.8 -26.8M553 3717.3l26.8 26.8M553 3744.1l26.8 -26.8M561.4 3718.1l26.8 26.8M561.4 3744.9l26.8 -26.8M569.9 3718.9l26.8 26.8M569.9 3745.7l26.8 -26.8M578.4 3719.6l26.8 26.8M578.4 3746.4l26.8 -26.8M586.8 3720.3l26.8 26.8M586.8 3747.1l26.8 -26.8M595.3 3721l26.8 26.8M595.3 3747.8l26.8 -26.8M642.5 3721.5l26.8 26.8M642.5 3748.3l26.8 -26.8M694.5 3727.8l26.8 26.8M694.5 3754.6l26.8 -26.8M746.6 3729.9l26.8 26.8M746.6 3756.7l26.8 -26.8M798.6 3743.8l26.8 26.8M798.6 3770.6l26.8 -26.8M850.7 3753.1l26.8 26.8M850.7 3779.9l26.8 -26.8M902.8 3762.4l26.8 26.8M902.8 3789.2l26.8 -26.8M954.8 3772.1l26.8 26.8M954.8 3798.9l26.8 -26.8M1006.9 3783.4l26.8 26.8M1006.9 3810.2l26.8 -26.8M1058.9 3795.6l26.8 26.8M1058.9 3822.4l26.8 -26.8M1111 3808.8l26.8 26.8M1111 3835.6l26.8 -26.8M1163.1 3821.5l26.8 26.8M1163.1 3848.3l26.8 -26.8M1215.1 3827.8l26.8 26.8M1215.1 3854.6l26.8 -26.8M1267.2 3818.5l26.8 26.8M1267.2 3845.3l26.8 -26.8M1319.2 3835.4l26.8 26.8M1319.2 3862.2l26.8 -26.8M1371.3 3853.1l26.8 26.8M1371.3 3879.9l26.8 -26.8M1423.4 3869.8l26.8 26.8M1423.4 3896.6l26.8 -26.8M1475.4 3886.6l26.8 26.8M1475.4 3913.4l26.8 -26.8M1527.5 3911l26.8 26.8M1527.5 3937.8l26.8 -26.8M1579.5 3933.2l26.8 26.8M1579.5 3960l26.8 -26.8M1631.6 3954.4l26.8 26.8M1631.6 3981.2l26.8 -26.8M1683.7 3978l26.8 26.8M1683.7 4004.8l26.8 -26.8"/>
<path fill="none" stroke="#ff8000" stroke-width="3.4" stroke-linecap="butt" d="M339.5 3077l26.8 26.8M339.5 3103.8l26.8 -26.8M340.3 3130.1l26.8 26.8M340.3 3156.9l26.8 -26.8M341.2 3173.9l26.8 26.8M341.2 3200.7l26.8 -26.8M342 3209.3l26.8 26.8M342 3236.1l26.8 -26.8M344 3246.8l26.8 26.8M344 3273.6l26.8 -26.8M344.9 3272.5l26.8 26.8M344.9 3299.3l26.8 -26.8M345.8 3298.1l26.8 26.8M345.8 3324.9l26.8 -26.8M346.3 3304.5l26.8 26.8M346.3 3331.3l26.8 -26.8M346.9 3314l26.8 26.8M346.9 3340.8l26.8 -26.8M347.6 3323.5l26.8 26.8M347.6 3350.3l26.8 -26.8M348.3 3332.9l26.8 26.8M348.3 3359.7l26.8 -26.8M348.9 3342.4l26.8 26.8M348.9 3369.2l26.8 -26.8M349.6 3351.9l26.8 26.8M349.6 3378.7l26.8 -26.8M350.4 3361.3l26.8 26.8M350.4 3388.1l26.8 -26.8M351.2 3370.8l26.8 26.8M351.2 3397.6l26.8 -26.8M352.1 3380.3l26.8 26.8M352.1 3407.1l26.8 -26.8M352.9 3389.7l26.8 26.8M352.9 3416.5l26.8 -26.8M353.7 3399.2l26.8 26.8M353.7 3426l26.8 -26.8M354.5 3408.7l26.8 26.8M354.5 3435.5l26.8 -26.8M355.3 3418.1l26.8 26.8M355.3 3444.9l26.8 -26.8M356.3 3427.6l26.8 26.8M356.3 3454.4l26.8 -26.8M357.5 3437l26.8 26.8M357.5 3463.8l26.8 -26.8M358.7 3446.4l26.8 26.8M358.7 3473.2l26.8 -26.8M359.9 3455.9l26.8 26.8M359.9 3482.7l26.8 -26.8M361.2 3465.3l26.8 26.8M361.2 3492.1l26.8 -26.8M362.9 3474.6l26.8 26.8M362.9 3501.4l26.8 -26.8M364.5 3484l26.8 26.8M364.5 3510.8l26.8 -26.8M366.2 3493.3l26.8 26.8M366.2 3520.1l26.8 -26.8M367.9 3502.7l26.8 26.8M367.9 3529.5l26.8 -26.8M370.3 3511.8l26.8 26.8M370.3 3538.6l26.8 -26.8M372.8 3521l26.8 26.8M372.8 3547.8l26.8 -26.8M375.2 3530.2l26.8 26.8M375.2 3557l26.8 -26.8M378 3539.3l26.8 26.8M378 3566.1l26.8 -26.8M382.2 3547.8l26.8 26.8M382.2 3574.6l26.8 -26.8M386.4 3556.3l26.8 26.8M386.4 3583.1l26.8 -26.8M392.6 3563.4l26.8 26.8M392.6 3590.2l26.8 -26.8M399.3 3570.1l26.8 26.8M399.3 3596.9l26.8 -26.8M406 3576.8l26.8 26.8M406 3603.6l26.8 -26.8M412.8 3583.5l26.8 26.8M412.8 3610.3l26.8 -26.8M419.5 3590.2l26.8 26.8M419.5 3617l26.8 -26.8M426.2 3596.9l26.8 26.8M426.2 3623.7l26.8 -26.8M433.1 3603.6l26.8 26.8M433.1 3630.4l26.8 -26.8M439.9 3610.1l26.8 26.8M439.9 3636.9l26.8 -26.8M446.8 3616.7l26.8 26.8M446.8 3643.5l26.8 -26.8M454.4 3622.3l26.8 26.8M454.4 3649.1l26.8 -26.8M462.1 3627.9l26.8 26.8M462.1 3654.7l26.8 -26.8M469.9 3633.3l26.8 26.8M469.9 3660.1l26.8 -26.8M478.1 3638.1l26.8 26.8M478.1 3664.9l26.8 -26.8M486.4 3642.8l26.8 26.8M486.4 3669.6l26.8 -26.8M494.6 3647.6l26.8 26.8M494.6 3674.4l26.8 -26.8M503.5 3650.7l26.8 26.8M503.5 3677.5l26.8 -26.8M512.6 3653.7l26.8 26.8M512.6 3680.5l26.8 -26.8M521.6 3656.6l26.8 26.8M521.6 3683.4l26.8 -26.8M530.8 3659.1l26.8 26.8M530.8 3685.9l26.8 -26.8M539.9 3661.7l26.8 26.8M539.9 3688.5l26.8 -26.8M549.1 3664.2l26.8 26.8M549.1 3691l26.8 -26.8M558.3 3666.4l26.8 26.8M558.3 3693.2l26.8 -26.8M567.5 3668.6l26.8 26.8M567.5 3695.4l26.8 -26.8M576.8 3670.8l26.8 26.8M576.8 3697.6l26.8 -26.8M586 3673l26.8 26.8M586 3699.8l26.8 -26.8M595.3 3675.1l26.8 26.8M595.3 3701.9l26.8 -26.8M642.5 3685.6l26.8 26.8M642.5 3712.4l26.8 -26.8M694.5 3694.1l26.8 26.8M694.5 3720.9l26.8 -26.8M746.6 3704.6l26.8 26.8M746.6 3731.4l26.8 -26.8M798.6 3715.1l26.8 26.8M798.6 3741.9l26.8 -26.8M850.7 3725.6l26.8 26.8M850.7 3752.4l26.8 -26.8M902.8 3737.1l26.8 26.8M902.8 3763.9l26.8 -26.8M954.8 3748.9l26.8 26.8M954.8 3775.7l26.8 -26.8M1006.9 3760.6l26.8 26.8M1006.9 3787.4l26.8 -26.8M1058.9 3770.1l26.8 26.8M1058.9 3796.9l26.8 -26.8M1111 3782.6l26.8 26.8M1111 3809.4l26.8 -26.8M1163.1 3796.2l26.8 26.8M1163.1 3823l26.8 -26.8M1215.1 3810.9l26.8 26.8M1215.1 3837.7l26.8 -26.8M1267.2 3834.1l26.8 26.8M1267.2 3860.9l26.8 -26.8M1319.2 3848.9l26.8 26.8M1319.2 3875.7l26.8 -26.8M1371.3 3867.8l26.8 26.8M1371.3 3894.6l26.8 -26.8M1423.4 3888.6l26.8 26.8M1423.4 3915.4l26.8 -26.8M1475.4 3903.6l26.8 26.8M1475.4 3930.4l26.8 -26.8M1527.5 3925.6l26.8 26.8M1527.5 3952.4l26.8 -26.8M1579.5 3942.6l26.8 26.8M1579.5 3969.4l26.8 -26.8M1631.6 3963.9l26.8 26.8M1631.6 3990.7l26.8 -26.8M1683.7 3982.6l26.8 26.8M1683.7 4009.4l26.8 -26.8"/>
<rect x="1206.5" y="3053.5" width="653" height="233.1" fill="none" stroke="#111" stroke-width="3.2"/>
<circle cx="1266.6" cy="3084.4" r="14.2" fill="none" stroke="#0000ff" stroke-width="3.6"/>
<text font-size="45.5" transform="translate(1333 3099.6) scale(1.0810 1)">zFC (HumAfFt-SPIONs)</text>
<circle cx="1266.6" cy="3141.3" r="14.2" fill="none" stroke="#ff0000" stroke-width="3.6"/>
<text font-size="45.5" transform="translate(1333 3156.5) scale(1.0810 1)">FC (HumAfFt-SPIONs)</text>
<path fill="none" stroke="#8000ff" stroke-width="3.6" d="M1252.6 3184l28 28M1252.6 3212l28 -28"/>
<text font-size="45.5" transform="translate(1333 3213.5) scale(1.0810 1)">zFC (SPIONs)</text>
<path fill="none" stroke="#ff8000" stroke-width="3.6" d="M1252.6 3241l28 28M1252.6 3269l28 -28"/>
<text font-size="45.5" transform="translate(1333 3270.5) scale(1.0810 1)">FC (SPIONs)</text>
</svg>
</body></html>
